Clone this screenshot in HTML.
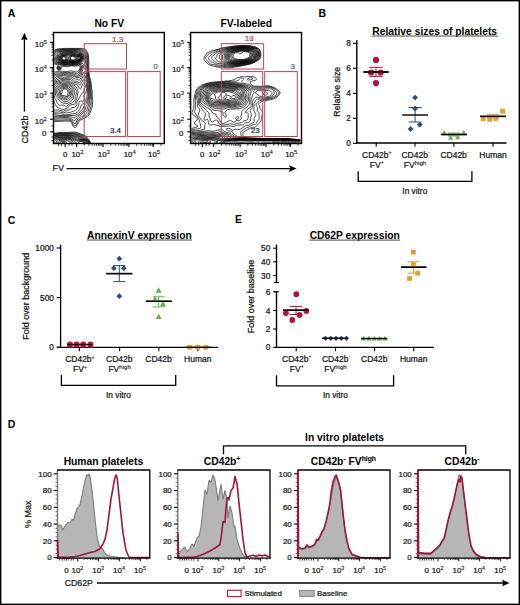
<!DOCTYPE html>
<html><head><meta charset="utf-8"><style>
html,body{margin:0;padding:0;background:#fff;}
svg{display:block;font-family:"Liberation Sans", sans-serif;}
text{stroke-width:0.22px;}
tspan{stroke-width:0.1px;}
text[font-weight=bold]{stroke-width:0;}
</style></head><body>
<svg width="520" height="605" viewBox="0 0 520 605">
<rect width="520" height="605" fill="#fff"/>
<rect x="0.70" y="0.70" width="518.60" height="603.60" stroke="#000" stroke-width="1.4" fill="none"/>
<text x="7.80" y="16.70" font-size="10.5" text-anchor="start" font-weight="bold" fill="#000"  stroke="#000">A</text>
<text x="318.60" y="16.90" font-size="10.5" text-anchor="start" font-weight="bold" fill="#000"  stroke="#000">B</text>
<text x="7.80" y="224.30" font-size="10.5" text-anchor="start" font-weight="bold" fill="#000"  stroke="#000">C</text>
<text x="235.00" y="223.30" font-size="10.5" text-anchor="start" font-weight="bold" fill="#000"  stroke="#000">E</text>
<text x="7.80" y="428.00" font-size="10.5" text-anchor="start" font-weight="bold" fill="#000"  stroke="#000">D</text>
<text x="109.30" y="26.60" font-size="10.3" text-anchor="middle" font-weight="bold" fill="#000"  stroke="#000">No FV</text>
<text x="246.30" y="27.00" font-size="10.3" text-anchor="middle" font-weight="bold" fill="#000"  stroke="#000">FV-labeled</text>
<clipPath id="clip0"><rect x="54.2" y="33.2" width="109.10000000000001" height="109.89999999999999"/></clipPath>
<g clip-path="url(#clip0)" fill="none" stroke="#000" stroke-width="0.7" stroke-linejoin="round">
<path d="M40.0 92.3l1.1 -2.5 1.6 -7.0 3.1 -5.0 4.2 -3.8 2.5 -0.7 2.7 -1.5 4.8 -0.6 6.8 0.3 4.7 -0.7 4.3 1.2 1.2 0.1 1.5 -1.1 1.2 -2.2 0.3 -1.3 -0.2 -1.0 -0.5 -0.5 -0.8 -0.2 -3.3 0.4 -3.7 -0.3 -4 0.7 -6.3 -0.5 -0.3 0.4 0.4 1.7 -0.5 1.4 -1.3 0.8 -1.5 -0.5 -0.8 -0.9 -0.3 -1.2 0.3 -0.9 1.1 -1.4 -2.3 -1.2 -3 -0.9 -1 -0.9 -0.8 -1.5 0.1 -5.8 0.9 -2.4 1.3 -1.8 2 -1.4 1.7 -0.6 8 -0.6 17.3 0.0 1.7 0.5 1.9 1.3 1.5 2.3 0.7 2.0 0.5 5.7 0 9.9 0.8 6.9 1.3 4.0 0.7 7.0 0.7 3.8 -0.1 2.4 0.5 7.6 -0.6 5.4 -0.6 2.0 -2.5 6.0 -1.8 1.4 -8 4.2 -2.7 5.4 -1 1.2 -0.7 0.2 -1.4 -0.8 -2 -4.3 -0.6 -0.8 -0.9 -0.5 -2.1 -0.2 -13.6 0.6 -10 -3.3 -4.2 -2.5M40.0 139.3l1.6 -2.1 2.6 -2.2 5.8 -2.1 1.5 -0.1 4 0.3 4.7 -0.7 3.3 0.2 12 -0.6 9.5 3.5 1.4 1.3 3.7 4.4 0.4 1.6 -0.6 1.7 -2.6 3.3 -2.3 2.0M42.2 149.8l-0.8 -1.6 -1.4 -4.6M40.0 96.5l0.9 -2.0 0.7 -2.5 1 -2.0 0.3 -2.5 1 -3.7 1.5 -2.3 1.2 -3.0 3.9 -3.2 2.5 -0.8 2.8 -1.6 3.4 0.0 3.6 -0.5 4.7 0.1 4 -0.2 2.7 0.6 2.3 0.8 0.7 0.0 1.6 -1.3 1.7 -3.7 0.2 -2.5 -0.4 -0.7 -0.8 -0.4 -1.4 -0.1 -3.1 0.4 -3.8 -0.1 -3.7 0.4 -3.7 0.0 -4.6 -0.9 -5.5 -2.3 -1.1 -1.5 -0.6 -5.0 0.7 -2.5 1.3 -1.9 2 -1.5 2.2 -0.7 5.8 -0.4 6.8 -0.2 7.4 0.0 4 0.5 1.8 0.6 1.8 1.2 1.3 2.1 0.6 2.0 0.5 4.8 0 10.0 0.8 7.0 1.1 3.5 0.5 2.7 0.2 5.0 0.6 3.8 0 6.8 -0.5 8.2 -1.8 5.2 -1.2 2.3 -1.1 1.1 -3.3 1.3 -2.3 1.6 -2.7 1.5 -0.7 1.0 -1.1 3.2 -0.9 1.3 -1 0.5 -0.8 -0.3 -0.5 -0.7 -1.7 -3.6 -1.8 -1.1 -3 -0.4 -6.5 0.4 -6.5 0.1 -9.5 -3.3 -3.9 -2.3 -0.6 -0.8M59.8 69.6l-1.3 0.0 -1 -0.8 -0.1 -1.3 0.8 -0.9 1.3 -0.2 1.1 0.8 0.2 1.3 -1 1.1M43.4 149.8l-1.2 -2.0 -1.6 -6.8 0.4 -1.2 1.4 -2.0 2.8 -2.4 5.8 -2.0 4.5 0.2 5 -0.7 3.3 0.2 10.2 -0.3 2.2 0.3 7.8 2.7 4 3.6 1.4 1.6 0.5 1.8 -0.5 1.4 -5.5 5.6M40.0 99.4l2.3 -4.4 1.7 -4.4 0.3 -3.6 0.7 -2.5 1.6 -2.7 0.8 -2.3 0.6 -0.7 7 -4.2 1.5 -0.5 3 0.0 4.3 -0.8 5 0.4 3 -0.1 2.2 0.5 2.5 1.1 1.3 0.0 0.7 -0.4 0.7 -1.0 2.1 -5.3 0.3 -1.5 -0.1 -1.2 -0.5 -0.9 -1 -0.5 -1.2 -0.1 -4 0.6 -11 0.2 -4.6 -1.0 -4.2 -2.0 -1.3 -1.6 -0.9 -4.3 0.4 -2.1 1.2 -1.9 2 -1.4 2.6 -0.8 5 -0.6 8.5 -0.1 6.7 0.3 4 1.1 2 1.3 1.5 2.2 0.6 3.0 0.3 12.6 0.9 7.4 1 3.3 0.5 3.0 0.1 4.5 0.4 4.2 -0.1 5.6 -0.5 3.0 0.1 3.2 -0.5 2.5 -0.9 2.3 -0.5 2.4 -0.6 1.1 -2 1.7 -7 4.3 -1.6 1.9 -0.9 2.7 -1 0.8 -0.8 -0.4 -2.4 -3.2 -3 -1.2 -2 -0.2 -12.6 0.5 -3.4 -0.8 -3.3 -1.2 -2.9 -1.4 -2 -2.0 -1.1 -2.8 -1.5 -2.3M59.2 69.3l-1 -0.3 -0.5 -0.8 0.3 -1.0 0.8 -0.4 1 0.2 0.6 0.8 -0.2 1.0 -1 0.5M44.7 149.8l-1.5 -2.0 -1.3 -6.0 0.5 -2.0 1.6 -2.6 2 -1.3 4.8 -1.9 5.2 0.1 5 -0.7 13.8 0.2 3.7 0.9 5.7 2.4 4.3 3.6 0.7 1.3 0.2 1.2 -1 1.8 -3.9 2.8 -1.8 2.2M74.8 120.6l-1 -0.2 -2.6 -1.9 -2.7 -0.8 -2.3 -0.2 -12.4 0.4 -2.6 -0.4 -3.2 -1.1 -2 -1.0 -1.2 -1.2 -3 -5.4 -0.8 -2.0 -0.1 -1.3 0.4 -2.5 0 -3.2 3.5 -6.8 0.5 -2.5 0.1 -3.3 0.7 -2.2 3.1 -5.2 3.9 -2.3 2.4 -1.8 1.3 -0.5 3 0.0 3.7 -0.8 5 0.5 3.3 -0.2 1.7 0.4 2.5 1.2 1.5 0.2 1.9 -0.7 1.1 -2.0 2 -7.3 -0.2 -1.5 -1.1 -1.0 -1.7 -0.4 -5 0.8 -10.7 0.2 -4.3 -0.9 -4.1 -2.5 -0.8 -1.2 -0.6 -2.0 -0.3 -1.8 0.2 -1.2 0.7 -1.5 1.2 -1.3 1.2 -0.8 2 -0.7 5.2 -0.8 8.8 -0.1 5.5 0.3 3.5 1.3 2.2 1.2 1.3 1.4 0.9 2.2 0.4 3.0 -0.3 3.8 0.4 7.0 1 7.2 1 3.6 0.6 3.4 0.2 12.0 -0.8 4.6 0 3.0 -2.4 6.9 -2.7 1.8 -3.1 2.7 -2.5 1.4 -3.4 4.0M59.5 68.8l-0.7 0.0 -0.5 -0.3 -0.2 -0.5 0.2 -0.5 0.7 -0.3 0.7 0.3 0.2 0.7 -0.4 0.6M46.2 149.8l-1.4 -1.3 -0.7 -1.0 -0.4 -3.3 -0.6 -2.2 0.4 -2.2 1.2 -2.0 1.8 -1.4 4.5 -1.8 5.5 0.0 4.5 -0.7 12.8 0.3 3.4 0.6 6 2.6 4 2.5 1.1 1.1 0.5 1.0 0.1 1.0 -0.3 0.8 -1.6 1.6 -3.3 1.8 -2.5 2.6M74.8 117.8l-0.8 0.2 -2 -0.9 -2.5 -0.4 -4.3 -0.2 -6.7 0.2 -6.5 -0.4 -3.5 -0.9 -1.5 -0.7 -1 -0.9 -1.6 -2.8 -1.6 -3.8 0.2 -7.0 0.9 -2.4 2.4 -4.3 0.3 -2.5 0 -4.0 1.3 -2.8 2.3 -2.7 6 -4.6 1.6 -0.6 5.4 -0.7 5 0.4 3.3 -0.3 1.5 0.4 2.8 1.3 2.4 0.2 1 -0.2 0.8 -0.6 1.3 -2.0 2.5 -9.3 -0.3 -1.0 -1.1 -1.0 -2.2 -0.5 -6 1.0 -10.4 0.2 -4.3 -1.1 -2.3 -1.3 -1.2 -1.0 -0.8 -1.6 -0.4 -2.2 0.2 -1.4 1.1 -2.1 0.8 -1.0 1.3 -0.7 4 -1.1 10.6 -0.4 5.7 0.6 2.5 1.0 2.7 1.6 1.2 1.5 0.7 1.8 0.1 2.4 -0.6 5.3 0.7 2.7 0.1 3.3 0.9 3.5 0.6 3.8 0.9 3.0 0.5 3.0 0 13.7 -0.8 3.0 -0.4 3.0 -1.6 3.0 -0.8 3.1 -5.4 4.6 -2.3 1.4 -2.7 2.2M47.7 149.8l-2 -1.8 -0.7 -1.4 -0.1 -2.6 -0.5 -3.0 0.3 -1.5 0.8 -1.3 1.7 -1.2 4.3 -1.8 5 -0.2 4.5 -0.5 12.2 0.4 4 0.5 9.9 4.8 0.9 1.0 0.4 1.0 -0.1 1.0 -0.4 0.8 -1.7 1.4 -3.4 1.6 -3 2.8M65.8 63.8l-2.6 -0.1 -3 -0.8 -2.2 -1.2 -1.5 -1.5 -0.6 -1.4 0 -1.6 1.5 -3.4 0.9 -1.0 1.7 -0.9 3.2 -0.8 10.6 -0.2 4.4 0.8 2 0.7 2.8 1.6 1.4 1.8 0.3 1.4 -0.1 1.8 -0.9 2.0 -0.9 0.9 -8.3 1.7 -6 -0.1 -2.7 0.3M74.8 115.5l-16 0.0 -10.7 -1.7 -1.3 -1.3 -1.2 -3.5 -1.1 -2.0 0 -5.7 1 -3.3 2.1 -3.5 0.6 -4.5 0 -2.5 0.5 -1.5 1 -1.5 2.3 -2.0 2.5 -2.7 3.1 -2.0 1.4 -0.6 2.8 -0.2 2.7 0.3 6 -0.5 1.5 0.3 2.8 1.8 2.4 0.3 1.6 0.9 0.4 0.0 0.8 -0.7 2 -3.6 1.2 -3.1 0.6 -0.5 0.4 0.0 1 0.7 0.8 1.5 0.7 3.6 1 3.2 0.6 7.0 -0.3 9.0 -1.7 5.8 -2.2 2.8 -1 2.7 -4.6 5.0 -3.7 2.0M49.2 149.8l-2.1 -1.8 -1 -1.8 -0.3 -5.2 0.3 -1.2 0.6 -1.0 1.5 -1.2 3.8 -1.8 9 -0.8 7.8 0.1 8.2 1.0 1.5 0.5 2.5 1.6 3.8 1.2 2.3 1.4 0.6 0.7 0.3 1.0 -0.2 0.7 -0.6 0.9 -1.4 1.1 -3.8 1.5 -3.7 3.1M74.2 63.3l-5.7 -0.3 -4 0.4 -3.5 -0.7 -2.2 -1.1 -1.5 -1.4 -0.6 -1.4 0.2 -1.8 1.4 -2.8 0.9 -0.9 2.3 -1.1 2.3 -0.5 10 -0.3 6.2 1.7 1.8 0.8 1.2 0.9 0.9 1.4 0.2 1.6 -0.5 1.4 -1.1 1.6 -2 1.1 -6.3 1.4M68.8 114.5l-3.3 -0.3 -2.3 0.1 -2.4 -0.5 -2.6 0.2 -3 -0.4 -5.8 -2.1 -0.9 -0.7 -0.4 -1.0 -0.2 -2.3 -1.3 -1.7 -0.1 -1.3 0.3 -1.7 0.6 -1.6 -0.2 -2.7 2 -3.7 0.1 -2.8 0.9 -5.5 0.6 -1.0 1.7 -1.5 2.3 -2.9 4.2 -2.4 1.2 -0.4 4.3 0.4 3.3 -0.6 2.7 0.1 1.3 0.6 2.7 2.1 2.3 0.5 2 1.0 0.7 -0.1 1.4 -1.3 1.9 -4.0 1.2 -1.4 0.8 -0.1 0.4 0.7 0.5 2.0 1.1 2.6 0.8 7.0 -0.7 9.0 -1.4 4.3 -1.3 1.9 -2.6 1.8 -1.1 2.2 -0.9 2.8 -2.6 2.7 -2 0.9 -6.2 1.1M50.6 149.8l-2.2 -1.8 -1.1 -2.0 -0.2 -4.5 0.8 -2.3 1.4 -1.2 3.2 -1.5 8.3 -1.0 8 0.1 8 1.1 3.7 2.1 4.7 1.2 1.8 1.2 0.4 1.6 -0.9 1.4 -1.5 0.9 -3.6 1.1 -2.9 2.4 -1.9 1.2M73.5 63.0l-5 -0.4 -4.3 0.4 -2.7 -0.6 -2 -0.9 -1.4 -1.3 -0.7 -1.4 0.1 -1.6 1.3 -2.1 1.2 -1.3 2 -1.1 2 -0.4 9.5 -0.3 7 1.9 1.5 0.7 0.9 0.9 0.6 1.3 0 1.2 -0.7 1.5 -1 1.2 -2.6 1.1 -5.7 1.2M63.5 112.8l-4.3 -0.9 -3.4 0.3 -1.6 -0.2 -1.4 -1.1 -2.6 -3.1 -1 -3.0 0.1 -1.0 0.8 -2.3 -0.9 -3.3 1.5 -3.4 0.5 -6.8 0.5 -1.5 3.5 -4.5 5.8 -2.4 4 0.2 3.2 -0.4 2 0.2 1.3 0.7 2.1 1.9 3.2 0.8 3 1.8 0.7 -0.5 3 -4.5 0.5 -0.1 1 0.4 0.8 1.4 0.9 4.7 0.1 2.0 -0.7 3.8 -2.4 3.5 0.1 0.7 0.7 2.0 -0.7 2.3 -1 0.9 -2.3 -0.5 -1.3 0.6 -0.4 1.0 0.1 2.5 -1.5 3.2 -0.7 1.0 -1.9 1.5 -4.3 1.6 -1.7 0.2 -2.6 -0.5 -2.7 0.8M52.5 149.8l-2 -1.0 -1.7 -2.0 -0.5 -1.6 -0.1 -3.4 0.3 -1.6 0.9 -1.2 1.6 -1.1 2.2 -0.8 6.8 -1.0 9.2 0.1 7.6 1.5 3 1.4 5 1.2 1.2 0.6 0.7 0.9 0.2 0.7 -0.2 0.7 -1.2 1.2 -4.7 1.5 -4.6 3.2 -2.8 0.7M74.8 62.5l-2.6 0.2 -3.7 -0.6 -3.7 0.6 -2.3 -0.3 -2.3 -1.0 -1.4 -1.2 -0.7 -1.2 0 -1.5 0.9 -1.6 1.5 -1.6 1.5 -0.9 1.8 -0.4 9.4 -0.5 4 1.4 3.3 0.5 1.8 1.1 0.7 1.0 0.1 1.3 -0.5 1.2 -1 1.2 -2.1 1.2 -4.7 1.1M63.8 111.0l-1.8 0.1 -3.5 -1.2 -3.7 0.3 -1 -0.8 -2 -3.4 -0.1 -1.5 0.6 -2.7 -1.2 -2.8 -0.1 -1.0 1.1 -3.2 0.2 -6.0 0.6 -1.8 2.3 -3.6 1.3 -0.9 5.3 -1.8 3.7 0.3 3.7 -0.2 1.3 0.5 2.7 2.2 3.8 1.4 2.8 3.7 0.7 0.5 0.7 -0.8 0.6 -2.5 0.7 -1.7 1 -0.9 0.7 0.2 1.1 1.8 0.2 1.3 -0.2 1.0 -1.1 1.7 -0.7 2.8 -2.4 2.5 -1.6 3.3 -2.2 3.2 -0.4 1.2 -0.1 2.6 -0.8 1.5 -1.5 1.2 -2.3 0.0 -0.7 0.2 -1 1.8 -0.7 0.6 -3 -0.2 -3 1.1M68.4 149.8l-5.2 -0.7 -3.7 0.5 -5 -0.2 -2.4 -0.6 -1.5 -1.3 -0.8 -1.7 -0.5 -4.0 0.3 -1.6 0.8 -1.0 1.1 -0.7 5 -1.3 3.3 -0.5 3.7 0.2 4.5 -0.2 3.8 0.7 7 2.2 5 0.7 1.4 0.7 0.9 0.8 0.2 1.2 -1.3 1.3 -5.5 1.5 -1.7 0.9 -2.6 1.9 -4.1 1.2M74.2 62.3l-2.2 0.0 -3.8 -0.6 -3.4 0.6 -2.3 -0.3 -2 -0.9 -1.2 -1.1 -0.6 -1.2 0.1 -1.3 1.4 -2.2 2.3 -1.5 9.3 -0.8 2.2 0.3 3 1.2 3.2 0.2 1.2 0.5 0.8 0.8 0.5 1.0 -0.1 1.0 -0.6 1.2 -1 1.1 -1.8 0.9 -5 1.1M63.8 109.3l-2.3 -0.1 -4 -1.9 -1 -0.8 -1.2 -1.7 -1.2 -3.8 -1.4 -3.0 0.6 -3.5 0 -4.7 0.8 -2.6 2 -3.0 0.9 -0.7 5.2 -1.6 3.3 0.3 3.5 -0.3 6.5 4.3 2.1 3.3 0.5 2.0 -0.9 5.7 -2.4 6.8 -0.8 0.4 -3.8 0.6 -0.8 0.8 -1.4 2.1 -4.2 1.4M70.2 149.3l-6.2 -0.8 -4.8 0.5 -4.4 -0.3 -1.3 -0.3 -1.4 -0.9 -0.8 -1.5 -0.7 -4.0 0.2 -1.5 0.6 -0.7 0.8 -0.5 5.8 -1.8 10 -0.3 3.8 0.9 5.4 2.0 6.3 0.6 1.3 0.5 0.8 0.8 0 1.0 -1.1 1.0 -6.7 1.5 -3.3 2.4 -4.3 1.4M73.8 62.0l-2 0.0 -3.6 -0.8 -3.4 0.8 -2.3 -0.3 -1.5 -0.7 -1.1 -1.0 -0.6 -1.2 0 -1.3 1.4 -2.0 2.1 -1.2 9.2 -0.7 2 0.3 2.8 1.1 3.4 0.1 1 0.4 0.8 0.7 0.3 1.0 -0.1 1.0 -1.4 1.9 -1.8 0.8 -5.2 1.1M66.5 106.3l-0.7 0.0 -2 -1.3 -3.6 0.4 -1.4 -0.5 -1.8 -2.4 -0.8 -2.5 -1.5 -1.8 -0.4 -1.0 -0.2 -6.2 0.8 -2.5 2.7 -3.7 1.4 -0.8 2.5 -0.7 4 0.0 2.5 -0.4 1.2 0.3 4.6 3.6 2.9 4.4 -0.1 1.6 -1.3 3.4 -0.4 3.3 -0.7 1.3 -1.6 1.7 -3.4 1.5 -2.7 2.3M70.5 148.5l-6.5 -0.5 -4.8 0.3 -4.8 -0.5 -1 -0.8 -0.5 -1.0 -0.5 -4.8 0.6 -0.7 2 -1.3 2.8 -1.0 10.2 -0.4 4 1.1 4.8 2.2 5.4 -0.1 1.8 0.5 0.8 0.7 -0.1 0.8 -1.1 0.8 -6.6 0.9 -3 2.4 -3.5 1.4M73.0 61.8l-1.5 -0.2 -3.3 -0.9 -3.4 0.9 -2 -0.2 -1.6 -0.7 -0.9 -0.9 -0.5 -1.0 0.1 -1.3 1.1 -1.6 1.8 -1.1 6.2 -0.2 3 -0.5 1.8 0.2 2.7 1.2 3.5 -0.1 1 0.4 0.7 0.7 0.2 0.7 -0.1 1.0 -0.6 1.0 -1 0.9 -1.4 0.6 -5.8 1.1M67.0 103.5l-4.5 -0.6 -1.3 -0.4 -5.2 -6.2 -0.9 -4.3 0.2 -1.8 0.8 -1.4 2.1 -2.6 1.8 -1.2 2.2 -0.5 6.3 -0.4 1.3 0.7 2.9 2.7 1.4 2.3 0.7 3.0 -1 2.7 -0.7 3.5 -3.5 3.2 -1.6 1.0 -1 0.3M70.2 147.8l-5.7 -0.4 -4.7 0.3 -4.3 -0.7 -0.7 -0.5 -0.4 -1.0 0.4 -4.5 1.5 -1.5 2.9 -0.8 8.8 -0.3 1.5 0.3 2.3 0.9 3.2 1.9 0.8 0.7 0.3 0.8 -0.8 1.5 -1.4 1.5 -1.9 1.1 -1.8 0.7M81.5 143.5l-2.3 0.1 -0.7 -0.4 -0.4 -0.4 0.6 -0.8 1.8 -0.5 1.7 0.1 1.3 0.6 0 0.6 -0.3 0.2 -1.7 0.5M74.2 61.3l-2.4 0.0 -3.6 -1.2 -3.2 1.1 -2 0.0 -1.2 -0.6 -1 -0.8 -0.5 -1.0 0 -1.0 0.9 -1.6 1.8 -1.0 5.5 0.0 3.5 -0.6 1.8 0.2 2.7 1.2 3.5 -0.3 1.3 0.8 0.3 0.7 -0.1 1.0 -1.3 1.6 -1.2 0.5 -2.8 0.3 -2 0.7M67.2 101.5l-2.2 0.2 -1.5 -0.4 -3.7 -2.5 -1.9 -2.6 -1.6 -4.0 0 -1.4 0.7 -1.3 1.6 -2.0 1.6 -1.4 4 -0.8 4 -0.1 1.6 0.9 3 3.4 0.3 2.7 -1.3 5.6 -3.6 3.2 -1 0.5M69.8 147.0l-5 -0.2 -4.6 0.2 -3.4 -0.8 -0.6 -0.4 -0.3 -0.8 0.6 -4.0 1 -1.0 2 -0.5 8 -0.4 2.5 0.5 3.1 1.9 0.9 1.0 0.2 0.7 -0.4 1.0 -1.1 1.3 -1.5 1.0 -1.4 0.5M73.8 61.0l-2.6 -0.1 -3 -1.5 -3 1.4 -2 0.1 -2 -1.2 -0.5 -0.9 0 -1.0 0.8 -1.3 1.5 -0.9 1.8 0.0 3.4 0.5 4 -1.1 1.6 0.2 2.4 1.3 3.3 -0.5 1 0.2 0.5 0.6 0.3 0.7 -0.1 0.7 -1.2 1.4 -1.5 0.5 -2.3 0.0 -2.4 0.9M65.8 99.8l-2.3 -0.4 -2.3 -1.0 -1.1 -0.9 -1 -1.5 -1.4 -4.8 1.2 -2.4 1.6 -1.7 4 -0.9 2.7 -0.1 1.6 0.7 2.2 2.4 0.7 1.3 0.1 1.3 -0.9 4.0 -0.5 1.2 -2.6 2.2 -2 0.6M69.0 146.3l-4 -0.2 -3.8 0.3 -2.2 -0.4 -1 -0.6 -0.4 -0.6 0.4 -3.3 0.8 -0.8 1.7 -0.5 6.7 -0.4 2.2 0.4 2.2 1.6 0.6 1.4 -0.3 1.0 -0.7 1.0 -1 0.7 -1.2 0.4M73.2 60.8l-1.2 -0.1 -1.2 -0.4 -2.6 -2.0 -2.7 2.0 -1 0.3 -1.3 0.0 -1.6 -1.1 -0.4 -0.7 -0.1 -1.0 0.9 -1.3 1.2 -0.5 2.5 0.2 2.5 1.3 2.6 -1.7 1.4 -0.4 1.6 0.3 2.4 1.4 3 -0.8 1 0.2 0.6 0.5 0 1.2 -1 1.2 -1.6 0.4 -2 -0.3 -3 1.3M66.0 98.3l-1.2 0.1 -1.3 -0.2 -1.5 -0.7 -1 -0.7 -1 -1.8 -0.7 -3.8 0.5 -1.7 1 -1.2 4.7 -1.3 1.5 0.1 1.2 0.7 1.9 2.4 0.4 1.6 -0.4 3.0 -0.5 1.2 -2.1 1.6 -1.5 0.7M62.0 145.8l-2 -0.4 -1 -0.9 0.1 -2.3 0.9 -1.0 1.8 -0.3 6 0.0 1.6 0.6 0.8 1.0 0.1 1.5 -1.1 1.1 -7.2 0.7M73.8 60.3l-1.8 0.1 -1.7 -0.9 -0.8 -1.5 0.5 -1.0 1.2 -0.9 1.3 -0.3 1.3 0.3 1.4 0.9 1 1.2 0 0.3 -1.3 1.3 -1.1 0.5M64.5 60.3l-1.5 -0.2 -1.3 -1.1 -0.1 -1.2 0.9 -1.1 1 -0.4 1.3 0.2 1.2 0.5 0.7 0.8 -0.1 0.7 -0.4 0.7 -1.7 1.1M79.2 59.3l-1.4 0.0 -1.4 -1.1 1.6 -1.3 1.8 -0.2 0.7 0.5 0 0.8 -0.4 0.8 -0.9 0.5M66.2 97.0l-1.7 0.1 -1.3 -0.3 -2 -1.1 -0.6 -1.2 0.2 -3.5 0.4 -1.2 1.5 -1.0 2.3 -0.8 1.5 0.1 1 0.5 1.2 1.6 0.6 1.8 0 1.8 -0.4 1.2 -1.4 1.5 -1.3 0.5M62.5 145.0l-1.3 -0.1 -0.9 -0.7 -0.1 -1.4 0.6 -0.8 1.2 -0.3 2.8 0.0 1.2 0.3 0.7 0.5 0.1 1.3 -0.4 0.4 -3.9 0.8M73.5 60.0l-1.7 -0.1 -1.3 -0.9 -0.2 -1.2 0.7 -1.0 1 -0.5 1 0.0 1 0.3 0.8 0.6 0.4 0.8 -0.1 0.8 -0.6 0.7 -1 0.5M64.8 59.8l-1.3 0.1 -1.2 -0.7 -0.4 -1.0 0.5 -1.0 0.6 -0.3 1 -0.2 1.7 0.8 0.3 0.5 -0.1 0.8 -1.1 1.0M79.0 59.0l-1.2 -0.2 -0.3 -0.8 0.7 -0.8 1.3 -0.2 0.5 0.3 0.2 0.7 -0.4 0.6 -0.8 0.4M66.8 96.3l-0.8 0.0 -1.8 -0.8 -2.2 -0.1 -0.8 -0.6 0 -0.8 0.8 -1.2 0.4 -2.6 1.1 -1.0 1.3 -0.3 1.4 0.2 0.9 0.7 0.6 1.0 0.4 1.2 -0.1 1.2 -0.5 2.3 -0.7 0.8M63.5 144.0l-1.3 0.0 -0.4 -0.2 0 -0.8 1.2 -0.5 2 0.5 -0.2 0.7 -1.3 0.3"/>
</g>
<clipPath id="clip4"><rect x="191.3" y="33.2" width="109.09999999999997" height="109.89999999999999"/></clipPath>
<g clip-path="url(#clip4)" fill="none" stroke="#000" stroke-width="0.7" stroke-linejoin="round">
<path d="M229.2 67.8l-2.2 0.0 -5.2 -0.6 -3.8 0.1 -8.1 -2.1 -1.7 -1.0 -3.9 -4.0 -0.4 -1.4 0.4 -1.8 2.7 -4.0 5.5 -2.6 6 -1.3 4.5 -1.5 11.2 -1.6 5.6 -0.5 10 0.2 3.7 0.6 1.7 0.6 3.6 1.7 1.3 1.4 0.5 1.5 0.3 3.3 -0.2 2.7 -1.6 2.3 -3.9 2.3 -5.2 2.1 -10.2 2.1 -10.6 1.5M180.0 131.2l2.5 -0.9 3.7 -0.4 3.8 -1.2 3.2 -0.6 3.8 -1.2 0.6 -0.4 -0.1 -1.0 -2.3 -0.9 -0.8 -1.6 0.4 -1.0 2.1 -1.8 0.3 -0.7 -0.2 -1.0 -2 -2.5 -3 -2.2 -0.3 -0.8 1.4 -3.2 0.9 -3.8 -0.2 -5.8 1 -5.2 1.2 -5.0 0.8 -1.2 1 -0.9 4.7 -3.3 6.7 -1.9 6.3 -0.8 7.3 -0.4 3 -0.6 2.7 0.0 3 -0.5 2.7 -0.8 2.6 -1.6 4.2 -1.4 3.8 0.4 3.7 -0.6 3.5 0.0 1.6 0.4 1.6 0.7 0.8 0.7 0.4 1.0 -0.2 0.6 -0.7 0.4 -4.5 1.2 -1 0.6 -0.2 0.5 0.2 0.7 2.2 2.0 1.6 0.7 1.7 0.3 5 0.1 7 -0.6 2.7 0.3 4.5 1.8 1.3 0.7 3.5 3.0 0.4 0.7 0.2 1.0 -0.6 1.3 -1.3 1.5 -4 2.8 -3.4 0.9 -7.3 1.2 -3.1 1.3 -1.3 1.0 -0.4 1.0 1 2.0 0.3 2.5 1.8 1.9 0.8 1.9 -1.6 8.5 -3.2 3.8 -2.8 2.3 -1 0.5 -2.5 0.2 -1.4 0.4 -6.6 3.8 -0.6 1.2 0.3 3.6 1.3 0.7 4.3 0.5 16 0.5 22.4 0.0 17.6 1.7M304.8 143.8l-20.8 1.8 -18.2 -0.1 -22 0.7 -3.2 0.6 -5.5 3.0M229.5 67.0l-8.3 -0.9 -3.4 0.2 -4 -1.7 -3.3 -0.4 -1.3 -0.8 -1.4 -2.4 -1.9 -1.8 -0.3 -1.0 0.2 -1.0 2.4 -2.8 5 -3.0 10.3 -3.1 11 -1.9 5.7 -0.6 9.8 0.3 5 1.1 3.2 1.7 1.2 1.1 0.5 1.5 0.4 3.3 -0.3 2.7 -1.4 2.0 -3.6 2.3 -2.2 1.1 -3 0.9 -10.6 2.1 -9.7 1.1M250.8 79.8l-2.8 0.2 -0.5 -0.2 -0.2 -0.6 0.3 -0.4 1.4 -0.8 2 -0.3 1.1 0.3 0.5 0.8 -0.1 0.4 -1.7 0.6M180.0 132.4l2.5 -0.9 4.3 -0.6 4.4 -1.3 8 -0.9 0.8 -0.2 0.6 -0.7 0.2 -1.0 -0.6 -3.3 -1.5 -4.5 -4.3 -7.2 0.8 -2.6 0.4 -4.7 -0.3 -4.0 0.2 -4.5 1.1 -3.0 0.5 -2.8 0.9 -1.2 4.5 -3.6 5.7 -2.0 7.3 -1.0 21.3 -1.4 1.2 -0.5 2.5 -2.3 1.3 -0.3 0.9 0.3 1 1.0 -0.2 0.6 -2.1 2.0 0.2 0.4 0.9 0.7 4 1.1 2.5 0.4 3.2 2.0 2 0.6 6.3 0.2 7.5 -0.8 2.2 0.3 4.6 1.9 3.7 3.4 0.5 1.0 -0.4 1.0 -1.6 1.8 -3.5 2.3 -7.3 1.5 -6.7 1.1 -1.5 0.9 -1.6 1.9 -0.4 1.3 0.3 1.0 1.4 1.7 -0.5 2.5 0 0.8 2 2.2 -0.2 2.8 0.2 2.7 -0.2 1.0 -1.5 1.5 -1 2.2 -1 1.0 -1.3 0.5 -2.4 0.5 -2.3 1.6 -3 1.0 -5 3.1 -0.8 1.6 0.4 2.5 -0.1 1.8 0.2 0.4 1.9 0.6 6.4 0.4 38 0.5 17.3 1.7M304.8 143.6l-11.8 1.2 -9.2 0.7 -18 -0.1 -24.6 0.7 -3.3 0.7 -3.2 2.0 -2.2 1.0M230.2 66.3l-9.4 -1.3 -2.8 0.1 -1 -0.2 -4 -2.5 -2.5 -0.6 -2.1 -3.6 -0.1 -0.7 0.5 -0.7 5 -4.0 3.7 -1.7 3.5 -0.9 3.2 -1.3 10.3 -2.1 6 -0.6 5.7 -0.1 4 0.3 4.8 1.3 2.8 1.5 1.1 1.3 0.8 4.5 -0.3 2.5 -1.4 1.7 -3.5 2.5 -2.7 1.2 -2.8 0.7 -10.2 1.9 -8.6 0.8M180.0 133.9l2.8 -1.4 5.7 -0.9 3.3 -0.9 4 0.1 4.7 -0.6 3.6 -1.0 0.7 -0.4 -0.3 -2.3 0.7 -2.3 -0.1 -1.0 -0.6 -0.7 -2.7 -2.0 -3.6 -5.0 0.1 -1.5 1.4 -3.0 0.2 -1.0 -0.4 -1.0 -1.5 -1.5 -0.4 -0.7 -0.3 -6.0 -0.8 -3.6 0.1 -1.4 1.1 -2.6 0.7 -3.0 3.1 -3.2 2.5 -1.6 5.2 -1.6 6.3 -0.8 10.5 -0.8 8.5 0.3 5.3 0.6 6.4 2.1 2.8 0.6 3.2 1.8 1.8 0.5 9.2 0.0 4.8 -0.7 2.5 0.2 2.3 0.8 1.2 0.8 2.5 3.6 0.2 0.7 -0.4 1.0 -1.1 1.3 -3.4 1.8 -6.8 1.4 -3 0.2 -4.2 -0.1 -1 0.3 -0.7 0.6 -1.7 2.5 -0.3 1.0 -0.3 7.5 1.8 2.5 0.2 1.0 -0.2 1.0 -1.4 2.7 -0.1 3.3 -0.6 1.3 -2.5 1.0 -2 1.3 -3 0.5 -6 3.8 -4.8 -0.2 -3 1.3 -1.5 -1.7 -1.9 -0.5 -2.5 0.5 0.1 0.4 0.7 0.8 1.9 1.0 2.8 0.3 1.2 1.7 4.2 3.5 2.3 1.0 2.2 0.5 22.8 0.7 23 0.1 17.3 1.9M304.8 143.3l-5.6 0.8 -15.2 1.3 -18.2 -0.2 -26.3 0.7 -3.4 0.6 -3.3 1.9 -3.8 1.4M231.5 65.5l-2.3 0.0 -8.7 -1.9 -3.3 -0.1 -5 -4.3 -0.6 -1.0 0 -1.0 0.5 -0.7 1.8 -1.3 1.7 -1.7 2.4 -1.5 3.2 -0.7 2.6 -1.4 1.4 -0.5 5 -1.4 4.8 -0.9 4.8 -0.5 5 -0.2 5.7 0.4 2.5 0.6 2 0.7 2.2 1.4 1.1 1.3 0.8 4.0 -0.3 2.4 -1.3 1.8 -3.3 2.4 -3.7 1.5 -5 0.9 -7.5 1.3 -6.5 0.4M234.2 126.5l-1.2 0.1 -2.5 -0.7 -9.5 0.6 -6.8 -1.9 -3 0.4 -1.6 0.0 -0.8 -0.4 -0.4 -0.6 -0.2 -3.5 -0.4 -1.0 -0.8 -0.1 -1.8 1.0 -1.1 -0.4 -0.2 -1.2 1.5 -3.6 0 -1.4 -0.6 -1.5 -1.7 -1.5 -1.8 -3.0 -2.2 -2.8 -0.5 -1.8 0 -3.2 -0.9 -3.0 0.1 -1.2 1.7 -5.0 2.5 -3.3 2.2 -1.4 4.3 -1.6 3.3 -0.3 3.7 -0.7 11.3 -0.6 12.7 1.0 8.5 3.0 6 2.6 3.5 -0.4 5.5 0.3 6.8 -0.7 1.8 0.3 1.5 1.0 0.9 1.8 0.2 2.0 -0.7 1.2 -2 1.6 -1.5 0.6 -5.5 1.0 -2 0.0 -6.3 -1.0 -1 0.6 -2 2.3 -0.9 2.1 0.3 3.0 -0.4 2.3 -0.4 1.1 -1.3 1.2 -0.4 0.7 0.1 1.0 1 2.0 0.2 1.3 -1.3 6.2 -0.9 1.2 -0.7 0.4 -3 0.1 -1.7 1.6 -1 0.6 -5.8 0.2 -2.8 1.4M180.0 135.8l2.5 -2.1 9 -2.0 4.5 0.3 8 -1.0 4.8 -0.2 5.4 0.4 3.6 -1.1 3.4 -0.5 1.3 0.4 2.5 1.9 4 1.0 2.2 1.0 2.4 1.6 1.5 2.0 1.1 0.3 13 0.8 38 0.4 17.6 2.1M304.8 142.9l-5.6 1.0 -15 1.3 -18.4 -0.1 -27.8 0.7 -3.3 0.4 -4.7 2.2 -4.4 1.4M190.6 149.8l-3.4 -0.6 -2 0.6M237.5 64.8l-7.7 0.1 -4.6 -1.2 -4.4 -1.6 -2.6 -0.3 -0.8 -0.6 -1.6 -2.0 -0.4 -0.7 0 -0.5 1.2 -1.2 0.7 -2.6 0.9 -0.8 3.3 -1.0 4 -2.3 5 -1.7 4.3 -0.8 5.2 -0.7 4.5 -0.1 5.7 0.4 4.3 1.2 1.8 1.1 1.3 1.3 0.8 2.4 0 3.0 -1 2.0 -2.4 2.2 -2.2 1.3 -3 1.0 -12.3 2.1M223.8 125.0l-2.6 -0.1 -1.3 -0.4 -0.7 -0.7 -1.2 -2.6 -1.5 -1.1 -1.3 0.1 -2.7 1.7 -1.3 -0.3 -0.5 -0.8 -0.5 -2.3 -1.1 -1.7 0 -3.0 -0.3 -1.0 -8.8 -8.6 -0.4 -1.2 0 -2.8 -0.5 -3.0 0.1 -1.2 1.1 -4.5 1.9 -3.0 2.2 -1.7 3.8 -1.6 3.6 -0.4 3.7 -0.7 11.7 -0.6 12.8 1.2 6.5 2.5 6.1 3.3 1.7 2.0 -1.5 2.0 -0.3 1.5 -1 2.2 -0.7 4.0 0.4 3.0 -0.2 1.5 -0.8 0.9 -2 1.0 -1.4 1.8 -1.8 1.4 0.2 0.5 1.3 -0.1 0.7 0.3 1 1.3 0 4.0 -0.7 1.7 -1 0.7 -2.5 0.6 -1.8 1.6 -0.7 0.3 -4.7 0.6 -3 1.2 -1 -0.1 -2.6 -0.8 -2.2 0.7 -4.2 0.7M265.8 97.1l-1.8 0.0 -5 -1.1 -3.7 -3.2 0 -0.6 1.7 -1.4 1.5 -0.5 3.7 0.7 4.3 -0.7 3.3 0.5 1.6 1.0 0.5 0.7 0 1.0 -1.1 1.9 -1.1 0.6 -3.9 1.1M180.0 137.4l2 -2.2 1 -0.6 8.5 -2.1 4.7 0.4 4.8 -0.3 3.5 -0.6 2.5 0.2 2.8 -0.1 7.2 0.6 3.5 -1.2 3.8 1.5 4.9 1.4 2.4 1.4 1.3 1.7 2.3 0.7 28.8 0.8 17.2 -0.1 6.8 0.2 14.5 1.9 1.6 0.5 0.5 0.5 -1.1 0.8 -2.5 0.6 -16.8 1.7 -18.4 -0.2 -25.3 0.5 -4.7 0.3 -3.6 0.5 -5.7 2.5 -9 1.1M196.9 149.8l-4.1 -0.4 -5.6 -1.0 -3.7 0.8 -1.3 -0.6 -2.2 -2.5M238.2 64.3l-8 0.0 -3.6 -1.1 -2.8 -1.2 -1.6 -1.0 -2.2 -2.2 -0.8 -2.3 0 -1.3 5.3 -3.8 2.3 -1.1 4.2 -1.5 4 -0.9 4.2 -0.5 6.3 -0.3 6 0.7 3 1.1 2.5 2.1 0.8 2.2 -0.1 2.8 -1.1 2.2 -1.8 1.9 -2.3 1.3 -3 1.0 -11.3 1.9M224.0 123.3l-1.8 0.1 -1 -0.4 -2 -3.7 -2.7 -2.3 -0.7 -2.8 -3 -1.1 -2.4 -3.6 -3.4 -1.8 -6 -4.5 -0.3 -1.0 -0.3 -4.7 0.2 -3.5 0.8 -2.5 1.6 -2.5 2.2 -1.9 3 -1.3 7.3 -1.2 11.7 -0.5 12.8 1.2 6 2.6 4.7 2.9 0.5 0.4 0.1 0.8 -0.9 2.0 -0.6 2.5 0.1 3.3 -0.8 5.0 -3.3 3.2 -2.8 1.8 -1.2 1.4 -0.1 2.8 -0.9 2.5 0.7 1.7 -0.3 0.8 -2 1.6 -2.7 0.1 -2.5 1.5 -0.8 0.0 -1.7 -1.3 -1.7 -0.2 -1.3 0.3 -2 1.2 -2.5 1.1M265.8 95.3l-1.6 -0.1 -1.2 -1.2 1.2 -1.5 1.3 -0.6 1.4 0.3 1 1.3 -0.4 0.7 -1.7 1.1M236.8 119.5l1.2 -0.7 0.8 -1.0 0 -0.6 -0.5 -0.4 -1.3 -0.1 -1.2 1.1 0 1.2 0.4 0.5 0.6 0.0M180.0 139.0l1.2 -0.9 2.1 -2.3 8.2 -2.5 5 0.4 7.7 -0.8 9 0.5 4 0.6 3.6 -0.9 7.2 2.2 1 0.7 1.1 1.8 4 0.7 29.9 0.7 17 -0.2 6.8 0.3 13.4 1.9 1.1 0.3 0.6 0.5 -0.9 0.8 -3.5 0.6 -14.3 1.5 -18.4 -0.1 -25.6 0.4 -5.9 0.3 -3.5 0.5 -4.3 1.7 -9.7 1.5 -13.3 -0.1 -3.5 0.6 -3.8 -0.8 -4 -0.2 -4.4 -1.0 -4.3 0.2 -1 -0.7 -1.5 -2.0 -1 -0.8M237.2 64.0l-7.2 -0.3 -2.8 -1.0 -3.2 -1.9 -1 -1.0 -0.6 -1.8 -0.1 -2.2 0.9 -1.8 2.6 -2.4 4.7 -2.2 4.5 -1.1 6 -0.7 4.5 -0.1 6.5 0.8 2.5 1.1 2.1 2.1 0.7 2.3 -0.2 2.2 -1.3 2.5 -1.8 1.6 -2.5 1.2 -2.7 0.9 -11.6 1.8M226.2 117.1l-1 -0.1 -2 -1.8 -0.3 -1.0 0.3 -1.7 -0.6 -0.7 -2.8 -0.7 -2 -0.9 -3 0.4 -0.8 -0.2 -2.8 -2.6 -3.7 -2.1 -5 -3.7 -0.5 -1.2 -0.3 -2.3 0.1 -4.5 2.1 -4.2 2.3 -2.4 2.3 -1.0 7.5 -1.2 11.2 -0.5 11.3 1.0 2.3 0.5 4.7 2.4 3.5 2.9 0.2 1.3 -1.1 3.4 0.5 2.8 -0.1 1.2 -1 2.3 -2.7 3.9 -1 0.7 -3.8 1.5 -6.5 0.5 -3.5 0.0 -3 0.9 -1.5 1.2 -0.7 1.0 1.4 2.8 0 2.1M180.0 140.8l2.3 -1.6 1.8 -2.2 6.9 -2.8 1.8 -0.2 3.7 0.6 7.7 -0.8 12.8 1.1 4.5 -0.5 3.3 1.2 1.7 1.1 1.4 1.3 1.9 0.5 6 0.4 28.2 0.5 16.8 -0.2 6.4 0.2 3 0.3 8 1.4 2.1 0.7 0.4 0.4 -2.2 0.9 -5 0.8 -9.7 0.9 -18 -0.2 -32.3 0.7 -3 0.3 -3.7 1.1 -3.3 0.3 -6.5 1.4 -13.5 0.1 -3.5 0.5 -3.8 -0.8 -4 -0.2 -4.2 -1.0 -3.8 -0.3 -1 -0.7 -1.4 -1.8 -1.8 -1.2M238.2 63.5l-2.4 0.1 -5.6 -0.4 -2.4 -1.0 -2.4 -1.7 -1 -1.0 -0.4 -1.3 0.3 -3.2 0.8 -1.8 2.1 -1.7 4 -1.8 4.3 -1.1 7.3 -0.8 3 0.0 6.2 0.9 2.1 1.1 1.9 2.0 0.7 1.7 -0.1 2.0 -1.2 2.7 -1.6 1.6 -2.3 1.1 -3 1.0 -10.3 1.6M224.0 109.0l-2.5 0.1 -3.3 -0.7 -3.7 -0.2 -5.7 -3.1 -4.8 -3.9 -1 -2.2 -0.2 -3.8 1.9 -4.4 1.8 -2.6 2 -1.1 6.5 -1.2 12.5 -0.5 12.5 1.2 1.2 0.5 4 2.7 1.8 3.2 -0.3 3.0 0.5 3.2 -1.1 2.8 -2.3 3.2 -1 0.6 -6.3 1.9 -3.7 0.3 -3.8 -0.4 -5 1.4M200.2 148.3l-4 -0.7 -4 -0.2 -3.2 -1.1 -3.8 -0.7 -1 -0.6 -2.1 -2.2 -0.4 -1.0 0.7 -0.8 2.4 -1.2 4.2 -3.6 2.2 -1.1 1.8 -0.2 3.5 0.5 3.5 -0.6 4 -0.1 13.5 1.0 3.7 -0.2 2 0.7 2.1 1.8 4.2 1.0 34.5 0.6 18.5 -0.2 8.5 0.6 6.7 1.5 0.6 0.3 0.3 0.4 -0.8 0.6 -4.3 0.8 -9 1.0 -18.7 -0.2 -32.3 0.6 -11.7 1.3 -4.8 1.4 -13.2 0.2 -3.6 0.4M238.8 63.0l-2.3 0.2 -5.3 -0.3 -2 -0.6 -1.7 -1.1 -1.7 -1.7 -0.6 -1.3 0.2 -3.0 0.8 -2.0 1 -1.0 1.8 -1.0 5 -1.9 2.2 -0.5 6.8 -0.7 2.5 0.1 6.3 0.9 2 1.0 1.7 1.9 0.6 1.5 -0.1 2.0 -1.1 2.5 -1.4 1.4 -2.5 1.3 -2.8 0.9 -3.4 0.7 -6 0.7M223.8 107.3l-9.3 -0.5 -5 -2.4 -3.1 -2.6 -1.9 -3.0 -0.5 -1.6 0 -1.2 1.8 -5.0 1.8 -2.5 1.4 -0.7 2.5 -0.3 4 -1.0 7.5 -0.5 4.8 0.1 5 0.3 7.2 0.9 1.5 0.7 2.4 2.0 0.7 1.2 1.2 7.0 -0.9 3.3 -1.4 2.1 -1 0.6 -6.5 2.3 -3.8 0.4 -3.2 -0.4 -5.2 0.8M200.8 147.5l-8.8 -1.0 -3 -1.4 -3.2 -1.0 -1.1 -0.9 -0.4 -1.0 5.6 -5.0 1.6 -1.0 1.5 -0.3 3.5 0.3 4.7 -0.8 19.6 1.2 1.1 0.4 1.9 1.5 5.2 0.8 26.8 0.1 8.2 0.4 18.2 -0.2 7.8 0.5 4.2 0.9 2.3 1.0 -0.3 0.5 -2.7 0.8 -9.3 1.1 -15 -0.2 -36.4 0.6 -11.6 0.7 -4.4 1.5 -12.8 0.2 -3.2 0.3M238.0 62.8l-6.8 -0.4 -2 -0.8 -1.4 -1.1 -1.3 -1.5 -0.4 -1.5 0.4 -2.7 0.9 -1.8 2.6 -1.7 4.5 -1.7 8.7 -1.1 2.6 0.1 6 1.0 1.6 0.9 1.5 1.7 0.6 1.6 -0.2 2.0 -1 2.2 -1.3 1.2 -2.8 1.3 -2.4 0.9 -3.3 0.7 -6.5 0.7M224.8 106.0l-1.8 0.2 -2.8 -0.4 -5.4 0.0 -4 -1.6 -3 -2.2 -1.7 -2.5 -0.9 -3.0 1.5 -4.7 1.5 -2.4 1.3 -0.8 2.5 -0.3 3.2 -1.1 8 -0.6 9.6 0.4 6.6 1.0 1.4 0.5 1.5 1.3 0.9 1.4 0.3 2.6 1 4.0 -0.9 3.0 -1.1 1.8 -1.4 0.9 -4.9 1.9 -4.4 0.5 -3 -0.2 -4 0.3M201.0 146.8l-1.5 0.0 -7 -1.0 -4.4 -3.0 -0.3 -0.6 0.1 -0.7 2 -2.7 2.1 -1.5 1.5 -0.3 3.3 0.0 4.2 -1.0 5.5 0.3 3.5 0.5 6 0.1 4.2 0.9 3.3 1.3 5.5 0.5 26.8 0.0 8.2 0.4 17.8 -0.3 7.7 0.6 3.9 0.9 1.3 0.8 -0.4 0.5 -1.5 0.5 -9 1.2 -14.6 -0.2 -19.4 0.4 -17.1 0.1 -11.7 0.5 -4.2 1.2 -8.3 0.1 -7.5 0.5M238.8 62.3l-2.3 0.1 -4.7 -0.5 -1.8 -0.5 -1.3 -0.9 -1.2 -1.5 -0.5 -1.5 0.3 -2.5 0.9 -1.8 2.3 -1.5 4.3 -1.8 8.2 -1.1 2.5 0.2 5.7 0.9 1.6 0.9 1.3 1.4 0.7 1.6 -0.1 2.0 -0.9 2.0 -1.3 1.1 -2.7 1.4 -2.6 0.8 -2.7 0.6 -5.7 0.6M231.5 105.0l-8.5 0.2 -2.8 -0.3 -4.7 0.0 -2.3 -0.5 -2 -0.8 -3.2 -2.5 -0.9 -1.3 -0.7 -1.8 -0.1 -2.2 1.8 -4.6 0.9 -1.1 1.1 -0.6 6.9 -1.8 5.8 -0.4 10.7 0.5 3.3 0.6 3.4 1.0 1 0.8 0.7 1.0 1.2 5.6 -0.1 1.7 -1.1 2.7 -1.4 1.5 -3.3 1.5 -5.7 0.8M201.5 146.0l-2.5 0.0 -4.2 -0.6 -2 -0.6 -1.3 -0.9 -1.3 -1.4 -0.3 -1.0 0.2 -1.0 1.1 -1.5 1.6 -0.9 4.2 -0.4 4 -1.0 5.5 0.3 3.5 0.5 5.2 0.0 6.3 1.8 2.7 0.4 5.3 0.3 10 -0.3 16.5 0.1 7.8 0.5 17.7 -0.4 7.5 0.6 2.6 0.7 1.2 0.8 -0.6 0.5 -4.1 1.0 -5.6 0.5 -13.5 -0.3 -13.2 0.4 -15.3 -0.1 -19 0.4 -5.3 1.2 -8.2 0.0 -6.5 0.4M239.5 61.8l-2.5 0.1 -4.5 -0.4 -1.5 -0.3 -1.3 -0.7 -1.2 -1.3 -0.6 -1.4 0.1 -2.3 0.7 -1.7 1.9 -1.6 4.2 -1.8 8 -1.2 2.7 0.2 5.3 0.9 1.4 0.7 1.1 1.2 0.7 1.6 0.1 1.7 -0.7 1.7 -1.3 1.3 -2.6 1.5 -2.5 0.8 -2.5 0.6 -5 0.4M230.5 104.3l-7.7 0.1 -7.8 -0.6 -2.5 -0.5 -3.5 -2.3 -1.1 -1.2 -0.8 -2.3 0.2 -2.0 1.7 -3.6 1 -1.2 7.8 -2.3 5.2 -0.4 11 0.6 2.5 0.4 2.6 1.2 1.4 1.6 1.4 4.2 0 2.2 -1.2 2.6 -1.1 1.2 -2.6 1.4 -6.5 0.9M201.8 145.3l-3 0.0 -3 -0.5 -2 -0.7 -2.1 -1.6 -0.4 -1.0 0.2 -1.0 1 -1.2 1.5 -0.6 3.2 -0.3 3.3 -0.8 5.3 0.0 4 0.5 5 0.1 3.6 1.0 5.4 1.0 5.7 0.1 10.3 -0.3 9.7 0.2 6.5 -0.1 7.5 0.6 17.5 -0.6 7.2 0.7 1.6 0.4 0.8 0.8 -0.7 0.5 -2.3 0.7 -5.6 0.6 -13 -0.5 -13.2 0.5 -34.3 0.2 -5.7 1.0 -14 0.3M238.2 61.5l-6 -0.6 -2.3 -1.1 -0.9 -1.3 -0.4 -1.5 0.2 -1.8 0.9 -1.4 2.3 -1.7 3.2 -1.4 7.8 -1.1 3 0.2 4.2 0.9 1.6 0.7 0.9 1.1 0.7 1.7 -0.3 2.0 -0.9 1.4 -2 1.5 -2 1.0 -3.2 0.9 -6.8 0.5M226.5 103.5l-4.5 0.1 -9.1 -1.4 -3.4 -1.9 -1 -1.0 -0.7 -1.8 0.3 -1.7 1.9 -3.3 1 -1.0 7 -2.4 5.2 -0.2 11 0.5 1.8 0.4 1.3 0.7 2.2 2.6 1.5 2.9 -0.1 2.0 -1.5 2.5 -1.8 1.5 -1.6 0.7 -2.8 0.1 -2.7 0.6 -4 0.1M200.5 144.8l-3.7 -0.6 -2.7 -1.0 -1.3 -1.2 -0.2 -0.8 0.2 -0.7 1.4 -1.0 3.3 -0.4 2.7 -0.7 5.3 -0.2 8.7 0.7 3.2 0.9 6.1 0.9 11.7 0.0 4.6 -0.4 9.7 0.3 6.5 -0.2 7.5 0.9 2.7 -0.3 3.8 0.1 7.2 -0.7 3.3 0.0 6.7 0.7 1.3 0.4 0.3 0.5 -0.6 0.5 -1.4 0.5 -5 0.5 -12.8 -0.8 -5.5 0.2 -7.7 0.6 -9.3 0.1 -5.7 -0.3 -12.8 0.4 -6.5 -0.3 -7 1.1 -14 0.3M239.2 61.0l-2 0.0 -3.7 -0.5 -2.5 -1.0 -0.9 -1.0 -0.5 -1.3 0 -1.7 0.6 -1.3 2 -1.6 3 -1.5 7.6 -1.0 2.7 0.1 3.5 0.6 1.8 0.7 1 1.0 0.7 1.7 -0.1 1.8 -0.7 1.2 -1.8 1.6 -1.9 0.9 -3 0.9 -5.8 0.4M225.5 102.8l-4.5 -0.1 -6.5 -1.1 -5 -2.5 -0.8 -1.3 0.1 -1.6 0.7 -1.2 2 -2.2 1.9 -1.3 4.8 -1.5 5 -0.2 12 0.8 1.1 0.6 3.5 4.3 0.3 1.5 -0.7 1.8 -1.2 1.4 -2 1.4 -5.7 0.8 -5 0.4M213.8 144.0l-14.3 0.0 -4.5 -1.5 -0.7 -0.5 -0.2 -0.8 0.2 -0.4 0.7 -0.4 5 -1.1 5.5 -0.5 8.3 0.9 5.7 1.1 3 0.8 9.3 -0.4 3 0.2 5.2 -0.5 10.5 0.5 5.7 -0.5 2.2 0.3 0.9 0.8 -1.4 0.8 -1.9 0.2 -3.8 -0.4 -5.2 0.4 -6 -0.4 -3.8 0.3 -9.4 0.1 -5.8 -0.6 -4.2 1.0 -4 0.6M283.5 143.0l-2.5 0.2 -3.8 -0.2 -4.7 -1.0 3.7 -1.1 3.3 -0.2 4.1 0.3 2.4 0.5 0.8 0.5 -0.6 0.5 -2.7 0.5M240.0 60.5l-3.5 -0.1 -2.5 -0.5 -1.5 -0.7 -1 -1.0 -0.7 -1.2 -0.2 -1.2 0.5 -1.3 1.6 -1.5 2.5 -1.4 7.8 -1.1 2.5 0.1 2.7 0.5 1.8 0.7 1.1 1.0 0.6 1.4 0 1.6 -0.7 1.2 -1.6 1.5 -1.6 0.8 -3 0.9 -4.8 0.3M224.8 102.0l-3.8 0.0 -5.5 -1.2 -2.3 -1.8 -3 -0.8 -0.4 -0.7 0 -1.0 0.7 -0.9 1.7 -1.3 1.3 -1.5 1.3 -0.9 3.4 -1.0 5.3 -0.3 6.5 0.3 4 0.7 1.2 0.7 2.9 2.7 0.8 1.0 0.1 1.2 -0.5 1.3 -1 1.0 -1.7 1.1 -1.3 0.3 -9.7 1.1M206.8 143.5l-6.8 -0.1 -1.4 -0.6 -0.5 -1.0 0.6 -1.0 1.3 -0.8 5.5 -0.6 8 1.1 4.5 1.5 -4 1.3 -7.2 0.2M281.2 142.8l-3.7 -0.3 -0.8 -0.3 -0.3 -0.4 1.2 -0.6 2.9 -0.1 2.5 0.4 0.9 0.5 -0.9 0.5 -1.8 0.3M240.8 60.0l-3.3 0.1 -3.7 -1.2 -1 -0.9 -0.8 -1.5 -0.2 -1.0 0.4 -1.0 1.6 -1.5 2 -1.0 7.4 -1.0 4.3 0.4 1.6 0.6 1.2 1.0 0.5 1.2 0 1.6 -0.7 1.2 -1.1 1.1 -1.5 0.8 -2.7 0.8 -4 0.3M226.0 101.0l-4.8 0.2 -5 -1.4 -0.5 -0.8 -0.2 -2.0 -0.9 -2.2 0.2 -1.3 0.9 -0.7 1.5 -0.6 5.6 -0.7 7.2 0.3 3.8 1.4 3 2.0 0.9 1.0 0.2 0.8 -0.4 1.0 -1.7 1.4 -9.8 1.6M206.2 143.0l-5.2 -0.3 -0.9 -0.5 -0.1 -0.4 0.5 -0.8 0.7 -0.4 4.3 -0.6 3.3 0.8 2 1.2 -1 0.6 -3.6 0.4M240.8 59.5l-3.1 0.0 -3.2 -1.2 -0.8 -0.8 -0.6 -1.3 0 -1.0 0.3 -0.7 1.6 -1.5 1.8 -0.5 1.1 0.0 1.8 1.0 1.8 0.1 0.9 -0.6 0.3 -1.2 1.3 -0.3 3.2 0.4 1.3 0.6 0.7 0.7 0.5 1.0 0 1.3 -0.5 1.3 -1 1.0 -4 1.5 -3.4 0.2M222.5 100.0l-1.7 -0.1 -1.5 -0.4 -1.2 -0.7 -0.2 -0.8 2.1 -2.3 1.3 -2.5 1.2 -0.8 2.3 0.1 1 1.0 0.5 1.7 2.9 0.3 1.8 1.8 1.8 -1.8 2.2 0.3 0.9 0.4 0.4 0.6 -0.3 1.0 -1 0.5 -3.2 0.1 -0.8 -0.4 -1.4 1.0 -1.2 0.5 -5.9 0.5M226.0 98.5l0.3 -0.7 -0.2 -1.3 -0.3 -0.7 -0.6 -0.2 -1 0.9 -0.7 1.7 0.7 0.5 1.8 -0.2M206.8 142.3l-2.6 0.1 -1.2 -0.3 -0.4 -0.3 0.6 -0.8 2.8 -0.3 1.3 0.5 0 0.8 -0.5 0.3"/>
</g>
<rect x="53.50" y="32.50" width="110.80" height="111.00" stroke="#000" stroke-width="1.4" fill="none"/>
<line x1="51.50" y1="111.49" x2="53.50" y2="111.49" stroke="#000" stroke-width="0.8" />
<line x1="51.50" y1="106.99" x2="53.50" y2="106.99" stroke="#000" stroke-width="0.8" />
<line x1="51.50" y1="103.79" x2="53.50" y2="103.79" stroke="#000" stroke-width="0.8" />
<line x1="51.50" y1="101.31" x2="53.50" y2="101.31" stroke="#000" stroke-width="0.8" />
<line x1="51.50" y1="99.28" x2="53.50" y2="99.28" stroke="#000" stroke-width="0.8" />
<line x1="51.50" y1="97.57" x2="53.50" y2="97.57" stroke="#000" stroke-width="0.8" />
<line x1="51.50" y1="96.08" x2="53.50" y2="96.08" stroke="#000" stroke-width="0.8" />
<line x1="51.50" y1="94.77" x2="53.50" y2="94.77" stroke="#000" stroke-width="0.8" />
<line x1="50.10" y1="119.20" x2="53.50" y2="119.20" stroke="#000" stroke-width="1.1" />
<line x1="51.50" y1="85.39" x2="53.50" y2="85.39" stroke="#000" stroke-width="0.8" />
<line x1="51.50" y1="80.89" x2="53.50" y2="80.89" stroke="#000" stroke-width="0.8" />
<line x1="51.50" y1="77.69" x2="53.50" y2="77.69" stroke="#000" stroke-width="0.8" />
<line x1="51.50" y1="75.21" x2="53.50" y2="75.21" stroke="#000" stroke-width="0.8" />
<line x1="51.50" y1="73.18" x2="53.50" y2="73.18" stroke="#000" stroke-width="0.8" />
<line x1="51.50" y1="71.47" x2="53.50" y2="71.47" stroke="#000" stroke-width="0.8" />
<line x1="51.50" y1="69.98" x2="53.50" y2="69.98" stroke="#000" stroke-width="0.8" />
<line x1="51.50" y1="68.67" x2="53.50" y2="68.67" stroke="#000" stroke-width="0.8" />
<line x1="50.10" y1="93.10" x2="53.50" y2="93.10" stroke="#000" stroke-width="1.1" />
<line x1="51.50" y1="59.89" x2="53.50" y2="59.89" stroke="#000" stroke-width="0.8" />
<line x1="51.50" y1="55.39" x2="53.50" y2="55.39" stroke="#000" stroke-width="0.8" />
<line x1="51.50" y1="52.19" x2="53.50" y2="52.19" stroke="#000" stroke-width="0.8" />
<line x1="51.50" y1="49.71" x2="53.50" y2="49.71" stroke="#000" stroke-width="0.8" />
<line x1="51.50" y1="47.68" x2="53.50" y2="47.68" stroke="#000" stroke-width="0.8" />
<line x1="51.50" y1="45.97" x2="53.50" y2="45.97" stroke="#000" stroke-width="0.8" />
<line x1="51.50" y1="44.48" x2="53.50" y2="44.48" stroke="#000" stroke-width="0.8" />
<line x1="51.50" y1="43.17" x2="53.50" y2="43.17" stroke="#000" stroke-width="0.8" />
<line x1="50.10" y1="67.60" x2="53.50" y2="67.60" stroke="#000" stroke-width="1.1" />
<line x1="51.50" y1="34.69" x2="53.50" y2="34.69" stroke="#000" stroke-width="0.8" />
<line x1="50.10" y1="42.40" x2="53.50" y2="42.40" stroke="#000" stroke-width="1.1" />
<line x1="50.10" y1="131.80" x2="53.50" y2="131.80" stroke="#000" stroke-width="1.1" />
<line x1="51.50" y1="126.00" x2="53.50" y2="126.00" stroke="#000" stroke-width="0.8" />
<line x1="51.50" y1="137.00" x2="53.50" y2="137.00" stroke="#000" stroke-width="0.8" />
<line x1="51.50" y1="140.50" x2="53.50" y2="140.50" stroke="#000" stroke-width="0.8" />
<text x="46.90" y="123.90" font-size="7.9" text-anchor="end" fill="#111" stroke="#111">10<tspan font-size="6.00" dy="-3.16">2</tspan></text>
<text x="46.90" y="97.80" font-size="7.9" text-anchor="end" fill="#111" stroke="#111">10<tspan font-size="6.00" dy="-3.16">3</tspan></text>
<text x="46.90" y="72.30" font-size="7.9" text-anchor="end" fill="#111" stroke="#111">10<tspan font-size="6.00" dy="-3.16">4</tspan></text>
<text x="46.90" y="47.10" font-size="7.9" text-anchor="end" fill="#111" stroke="#111">10<tspan font-size="6.00" dy="-3.16">5</tspan></text>
<text x="46.30" y="136.30" font-size="7.9" text-anchor="end" font-weight="normal" fill="#111"  stroke="#111">0</text>
<line x1="84.37" y1="143.50" x2="84.37" y2="145.80" stroke="#000" stroke-width="0.8" />
<line x1="88.91" y1="143.50" x2="88.91" y2="145.80" stroke="#000" stroke-width="0.8" />
<line x1="92.13" y1="143.50" x2="92.13" y2="145.80" stroke="#000" stroke-width="0.8" />
<line x1="94.63" y1="143.50" x2="94.63" y2="145.80" stroke="#000" stroke-width="0.8" />
<line x1="96.68" y1="143.50" x2="96.68" y2="145.80" stroke="#000" stroke-width="0.8" />
<line x1="98.40" y1="143.50" x2="98.40" y2="145.80" stroke="#000" stroke-width="0.8" />
<line x1="99.90" y1="143.50" x2="99.90" y2="145.80" stroke="#000" stroke-width="0.8" />
<line x1="101.22" y1="143.50" x2="101.22" y2="145.80" stroke="#000" stroke-width="0.8" />
<line x1="76.60" y1="143.50" x2="76.60" y2="146.90" stroke="#000" stroke-width="1.1" />
<line x1="110.77" y1="143.50" x2="110.77" y2="145.80" stroke="#000" stroke-width="0.8" />
<line x1="115.31" y1="143.50" x2="115.31" y2="145.80" stroke="#000" stroke-width="0.8" />
<line x1="118.53" y1="143.50" x2="118.53" y2="145.80" stroke="#000" stroke-width="0.8" />
<line x1="121.03" y1="143.50" x2="121.03" y2="145.80" stroke="#000" stroke-width="0.8" />
<line x1="123.08" y1="143.50" x2="123.08" y2="145.80" stroke="#000" stroke-width="0.8" />
<line x1="124.80" y1="143.50" x2="124.80" y2="145.80" stroke="#000" stroke-width="0.8" />
<line x1="126.30" y1="143.50" x2="126.30" y2="145.80" stroke="#000" stroke-width="0.8" />
<line x1="127.62" y1="143.50" x2="127.62" y2="145.80" stroke="#000" stroke-width="0.8" />
<line x1="103.00" y1="143.50" x2="103.00" y2="146.90" stroke="#000" stroke-width="1.1" />
<line x1="136.67" y1="143.50" x2="136.67" y2="145.80" stroke="#000" stroke-width="0.8" />
<line x1="141.21" y1="143.50" x2="141.21" y2="145.80" stroke="#000" stroke-width="0.8" />
<line x1="144.43" y1="143.50" x2="144.43" y2="145.80" stroke="#000" stroke-width="0.8" />
<line x1="146.93" y1="143.50" x2="146.93" y2="145.80" stroke="#000" stroke-width="0.8" />
<line x1="148.98" y1="143.50" x2="148.98" y2="145.80" stroke="#000" stroke-width="0.8" />
<line x1="150.70" y1="143.50" x2="150.70" y2="145.80" stroke="#000" stroke-width="0.8" />
<line x1="152.20" y1="143.50" x2="152.20" y2="145.80" stroke="#000" stroke-width="0.8" />
<line x1="153.52" y1="143.50" x2="153.52" y2="145.80" stroke="#000" stroke-width="0.8" />
<line x1="128.90" y1="143.50" x2="128.90" y2="146.90" stroke="#000" stroke-width="1.1" />
<line x1="160.97" y1="143.50" x2="160.97" y2="145.80" stroke="#000" stroke-width="0.8" />
<line x1="153.20" y1="143.50" x2="153.20" y2="146.90" stroke="#000" stroke-width="1.1" />
<line x1="65.20" y1="143.50" x2="65.20" y2="146.90" stroke="#000" stroke-width="1.1" />
<line x1="58.50" y1="143.50" x2="58.50" y2="145.80" stroke="#000" stroke-width="0.8" />
<line x1="61.50" y1="143.50" x2="61.50" y2="145.80" stroke="#000" stroke-width="0.8" />
<line x1="69.00" y1="143.50" x2="69.00" y2="145.80" stroke="#000" stroke-width="0.8" />
<line x1="72.00" y1="143.50" x2="72.00" y2="145.80" stroke="#000" stroke-width="0.8" />
<text x="65.20" y="157.10" font-size="7.9" text-anchor="middle" font-weight="normal" fill="#111"  stroke="#111">0</text>
<text x="77.50" y="157.10" font-size="7.9" text-anchor="middle" fill="#111" stroke="#111">10<tspan font-size="6.00" dy="-3.16">2</tspan></text>
<text x="103.90" y="157.10" font-size="7.9" text-anchor="middle" fill="#111" stroke="#111">10<tspan font-size="6.00" dy="-3.16">3</tspan></text>
<text x="129.80" y="157.10" font-size="7.9" text-anchor="middle" fill="#111" stroke="#111">10<tspan font-size="6.00" dy="-3.16">4</tspan></text>
<text x="154.10" y="157.10" font-size="7.9" text-anchor="middle" fill="#111" stroke="#111">10<tspan font-size="6.00" dy="-3.16">5</tspan></text>
<rect x="190.60" y="32.50" width="110.90" height="111.00" stroke="#000" stroke-width="1.4" fill="none"/>
<line x1="188.60" y1="111.49" x2="190.60" y2="111.49" stroke="#000" stroke-width="0.8" />
<line x1="188.60" y1="106.99" x2="190.60" y2="106.99" stroke="#000" stroke-width="0.8" />
<line x1="188.60" y1="103.79" x2="190.60" y2="103.79" stroke="#000" stroke-width="0.8" />
<line x1="188.60" y1="101.31" x2="190.60" y2="101.31" stroke="#000" stroke-width="0.8" />
<line x1="188.60" y1="99.28" x2="190.60" y2="99.28" stroke="#000" stroke-width="0.8" />
<line x1="188.60" y1="97.57" x2="190.60" y2="97.57" stroke="#000" stroke-width="0.8" />
<line x1="188.60" y1="96.08" x2="190.60" y2="96.08" stroke="#000" stroke-width="0.8" />
<line x1="188.60" y1="94.77" x2="190.60" y2="94.77" stroke="#000" stroke-width="0.8" />
<line x1="187.20" y1="119.20" x2="190.60" y2="119.20" stroke="#000" stroke-width="1.1" />
<line x1="188.60" y1="85.39" x2="190.60" y2="85.39" stroke="#000" stroke-width="0.8" />
<line x1="188.60" y1="80.89" x2="190.60" y2="80.89" stroke="#000" stroke-width="0.8" />
<line x1="188.60" y1="77.69" x2="190.60" y2="77.69" stroke="#000" stroke-width="0.8" />
<line x1="188.60" y1="75.21" x2="190.60" y2="75.21" stroke="#000" stroke-width="0.8" />
<line x1="188.60" y1="73.18" x2="190.60" y2="73.18" stroke="#000" stroke-width="0.8" />
<line x1="188.60" y1="71.47" x2="190.60" y2="71.47" stroke="#000" stroke-width="0.8" />
<line x1="188.60" y1="69.98" x2="190.60" y2="69.98" stroke="#000" stroke-width="0.8" />
<line x1="188.60" y1="68.67" x2="190.60" y2="68.67" stroke="#000" stroke-width="0.8" />
<line x1="187.20" y1="93.10" x2="190.60" y2="93.10" stroke="#000" stroke-width="1.1" />
<line x1="188.60" y1="59.89" x2="190.60" y2="59.89" stroke="#000" stroke-width="0.8" />
<line x1="188.60" y1="55.39" x2="190.60" y2="55.39" stroke="#000" stroke-width="0.8" />
<line x1="188.60" y1="52.19" x2="190.60" y2="52.19" stroke="#000" stroke-width="0.8" />
<line x1="188.60" y1="49.71" x2="190.60" y2="49.71" stroke="#000" stroke-width="0.8" />
<line x1="188.60" y1="47.68" x2="190.60" y2="47.68" stroke="#000" stroke-width="0.8" />
<line x1="188.60" y1="45.97" x2="190.60" y2="45.97" stroke="#000" stroke-width="0.8" />
<line x1="188.60" y1="44.48" x2="190.60" y2="44.48" stroke="#000" stroke-width="0.8" />
<line x1="188.60" y1="43.17" x2="190.60" y2="43.17" stroke="#000" stroke-width="0.8" />
<line x1="187.20" y1="67.60" x2="190.60" y2="67.60" stroke="#000" stroke-width="1.1" />
<line x1="188.60" y1="34.69" x2="190.60" y2="34.69" stroke="#000" stroke-width="0.8" />
<line x1="187.20" y1="42.40" x2="190.60" y2="42.40" stroke="#000" stroke-width="1.1" />
<line x1="187.20" y1="131.80" x2="190.60" y2="131.80" stroke="#000" stroke-width="1.1" />
<line x1="188.60" y1="126.00" x2="190.60" y2="126.00" stroke="#000" stroke-width="0.8" />
<line x1="188.60" y1="137.00" x2="190.60" y2="137.00" stroke="#000" stroke-width="0.8" />
<line x1="188.60" y1="140.50" x2="190.60" y2="140.50" stroke="#000" stroke-width="0.8" />
<text x="184.00" y="123.90" font-size="7.9" text-anchor="end" fill="#111" stroke="#111">10<tspan font-size="6.00" dy="-3.16">2</tspan></text>
<text x="184.00" y="97.80" font-size="7.9" text-anchor="end" fill="#111" stroke="#111">10<tspan font-size="6.00" dy="-3.16">3</tspan></text>
<text x="184.00" y="72.30" font-size="7.9" text-anchor="end" fill="#111" stroke="#111">10<tspan font-size="6.00" dy="-3.16">4</tspan></text>
<text x="184.00" y="47.10" font-size="7.9" text-anchor="end" fill="#111" stroke="#111">10<tspan font-size="6.00" dy="-3.16">5</tspan></text>
<text x="183.40" y="136.30" font-size="7.9" text-anchor="end" font-weight="normal" fill="#111"  stroke="#111">0</text>
<line x1="221.47" y1="143.50" x2="221.47" y2="145.80" stroke="#000" stroke-width="0.8" />
<line x1="226.01" y1="143.50" x2="226.01" y2="145.80" stroke="#000" stroke-width="0.8" />
<line x1="229.23" y1="143.50" x2="229.23" y2="145.80" stroke="#000" stroke-width="0.8" />
<line x1="231.73" y1="143.50" x2="231.73" y2="145.80" stroke="#000" stroke-width="0.8" />
<line x1="233.78" y1="143.50" x2="233.78" y2="145.80" stroke="#000" stroke-width="0.8" />
<line x1="235.50" y1="143.50" x2="235.50" y2="145.80" stroke="#000" stroke-width="0.8" />
<line x1="237.00" y1="143.50" x2="237.00" y2="145.80" stroke="#000" stroke-width="0.8" />
<line x1="238.32" y1="143.50" x2="238.32" y2="145.80" stroke="#000" stroke-width="0.8" />
<line x1="213.70" y1="143.50" x2="213.70" y2="146.90" stroke="#000" stroke-width="1.1" />
<line x1="247.87" y1="143.50" x2="247.87" y2="145.80" stroke="#000" stroke-width="0.8" />
<line x1="252.41" y1="143.50" x2="252.41" y2="145.80" stroke="#000" stroke-width="0.8" />
<line x1="255.63" y1="143.50" x2="255.63" y2="145.80" stroke="#000" stroke-width="0.8" />
<line x1="258.13" y1="143.50" x2="258.13" y2="145.80" stroke="#000" stroke-width="0.8" />
<line x1="260.18" y1="143.50" x2="260.18" y2="145.80" stroke="#000" stroke-width="0.8" />
<line x1="261.90" y1="143.50" x2="261.90" y2="145.80" stroke="#000" stroke-width="0.8" />
<line x1="263.40" y1="143.50" x2="263.40" y2="145.80" stroke="#000" stroke-width="0.8" />
<line x1="264.72" y1="143.50" x2="264.72" y2="145.80" stroke="#000" stroke-width="0.8" />
<line x1="240.10" y1="143.50" x2="240.10" y2="146.90" stroke="#000" stroke-width="1.1" />
<line x1="273.77" y1="143.50" x2="273.77" y2="145.80" stroke="#000" stroke-width="0.8" />
<line x1="278.31" y1="143.50" x2="278.31" y2="145.80" stroke="#000" stroke-width="0.8" />
<line x1="281.53" y1="143.50" x2="281.53" y2="145.80" stroke="#000" stroke-width="0.8" />
<line x1="284.03" y1="143.50" x2="284.03" y2="145.80" stroke="#000" stroke-width="0.8" />
<line x1="286.08" y1="143.50" x2="286.08" y2="145.80" stroke="#000" stroke-width="0.8" />
<line x1="287.80" y1="143.50" x2="287.80" y2="145.80" stroke="#000" stroke-width="0.8" />
<line x1="289.30" y1="143.50" x2="289.30" y2="145.80" stroke="#000" stroke-width="0.8" />
<line x1="290.62" y1="143.50" x2="290.62" y2="145.80" stroke="#000" stroke-width="0.8" />
<line x1="266.00" y1="143.50" x2="266.00" y2="146.90" stroke="#000" stroke-width="1.1" />
<line x1="298.07" y1="143.50" x2="298.07" y2="145.80" stroke="#000" stroke-width="0.8" />
<line x1="290.30" y1="143.50" x2="290.30" y2="146.90" stroke="#000" stroke-width="1.1" />
<line x1="202.30" y1="143.50" x2="202.30" y2="146.90" stroke="#000" stroke-width="1.1" />
<line x1="195.60" y1="143.50" x2="195.60" y2="145.80" stroke="#000" stroke-width="0.8" />
<line x1="198.60" y1="143.50" x2="198.60" y2="145.80" stroke="#000" stroke-width="0.8" />
<line x1="206.10" y1="143.50" x2="206.10" y2="145.80" stroke="#000" stroke-width="0.8" />
<line x1="209.10" y1="143.50" x2="209.10" y2="145.80" stroke="#000" stroke-width="0.8" />
<text x="202.30" y="157.10" font-size="7.9" text-anchor="middle" font-weight="normal" fill="#111"  stroke="#111">0</text>
<text x="214.60" y="157.10" font-size="7.9" text-anchor="middle" fill="#111" stroke="#111">10<tspan font-size="6.00" dy="-3.16">2</tspan></text>
<text x="241.00" y="157.10" font-size="7.9" text-anchor="middle" fill="#111" stroke="#111">10<tspan font-size="6.00" dy="-3.16">3</tspan></text>
<text x="266.90" y="157.10" font-size="7.9" text-anchor="middle" fill="#111" stroke="#111">10<tspan font-size="6.00" dy="-3.16">4</tspan></text>
<text x="291.20" y="157.10" font-size="7.9" text-anchor="middle" fill="#111" stroke="#111">10<tspan font-size="6.00" dy="-3.16">5</tspan></text>
<rect x="84.20" y="43.70" width="42.30" height="25.30" stroke="#bc4450" stroke-width="1.0" fill="none"/>
<rect x="84.20" y="71.60" width="41.40" height="64.90" stroke="#bc4450" stroke-width="1.0" fill="none"/>
<rect x="127.60" y="71.60" width="32.60" height="64.90" stroke="#bc4450" stroke-width="1.0" fill="none"/>
<rect x="221.30" y="43.70" width="42.30" height="25.30" stroke="#bc4450" stroke-width="1.0" fill="none"/>
<rect x="221.30" y="71.60" width="41.40" height="64.90" stroke="#bc4450" stroke-width="1.0" fill="none"/>
<rect x="264.70" y="71.60" width="32.60" height="64.90" stroke="#bc4450" stroke-width="1.0" fill="none"/>
<text x="117.60" y="41.50" font-size="8" text-anchor="middle" font-weight="normal" fill="#b84a55"  stroke="#b84a55">1.3</text>
<text x="155.60" y="68.90" font-size="8" text-anchor="middle" font-weight="normal" fill="#456a80"  stroke="#456a80">0</text>
<text x="115.50" y="133.20" font-size="8" text-anchor="middle" font-weight="normal" fill="#222"  stroke="#222">3.4</text>
<text x="249.30" y="41.30" font-size="8" text-anchor="middle" font-weight="normal" fill="#b84a55"  stroke="#b84a55">13</text>
<text x="292.80" y="69.40" font-size="8" text-anchor="middle" font-weight="normal" fill="#456a80"  stroke="#456a80">3</text>
<text x="255.20" y="132.60" font-size="8" text-anchor="middle" font-weight="normal" fill="#222"  stroke="#222">23</text>
<line x1="24.40" y1="111.50" x2="24.40" y2="37.70" stroke="#000" stroke-width="1.3" />
<path d="M21.10,40.20 L24.40,32.70 L27.70,40.20 L24.40,39.00 Z" fill="#000"/>
<text transform="translate(27.6,129.5) rotate(-90)" font-size="9" text-anchor="middle" fill="#111" stroke="#111">CD42b</text>
<text x="58.30" y="171.20" font-size="9" text-anchor="middle" font-weight="normal" fill="#111"  stroke="#111">FV</text>
<line x1="66.50" y1="168.60" x2="291.50" y2="168.60" stroke="#000" stroke-width="1.3" />
<path d="M289.00,165.30 L296.50,168.60 L289.00,171.90 L290.20,168.60 Z" fill="#000"/>
<text x="434.70" y="34.60" font-size="10.3" text-anchor="middle" font-weight="bold" fill="#000"  stroke="#000">Relative sizes of platelets</text>
<line x1="371.60" y1="36.00" x2="497.80" y2="36.00" stroke="#333" stroke-width="0.9" />
<line x1="356.80" y1="40.30" x2="356.80" y2="143.30" stroke="#000" stroke-width="1.4" />
<line x1="356.40" y1="143.00" x2="506.50" y2="143.00" stroke="#000" stroke-width="1.3" />
<line x1="353.00" y1="143.30" x2="357.00" y2="143.30" stroke="#000" stroke-width="1.1" />
<text x="350.90" y="146.30" font-size="8.3" text-anchor="end" font-weight="normal" fill="#111"  stroke="#111">0</text>
<line x1="353.00" y1="118.30" x2="357.00" y2="118.30" stroke="#000" stroke-width="1.1" />
<text x="350.90" y="121.30" font-size="8.3" text-anchor="end" font-weight="normal" fill="#111"  stroke="#111">2</text>
<line x1="353.00" y1="93.30" x2="357.00" y2="93.30" stroke="#000" stroke-width="1.1" />
<text x="350.90" y="96.30" font-size="8.3" text-anchor="end" font-weight="normal" fill="#111"  stroke="#111">4</text>
<line x1="353.00" y1="68.30" x2="357.00" y2="68.30" stroke="#000" stroke-width="1.1" />
<text x="350.90" y="71.30" font-size="8.3" text-anchor="end" font-weight="normal" fill="#111"  stroke="#111">6</text>
<line x1="353.00" y1="43.30" x2="357.00" y2="43.30" stroke="#000" stroke-width="1.1" />
<text x="350.90" y="46.30" font-size="8.3" text-anchor="end" font-weight="normal" fill="#111"  stroke="#111">8</text>
<line x1="376.20" y1="143.00" x2="376.20" y2="146.80" stroke="#000" stroke-width="1.1" />
<line x1="415.00" y1="143.00" x2="415.00" y2="146.80" stroke="#000" stroke-width="1.1" />
<line x1="453.90" y1="143.00" x2="453.90" y2="146.80" stroke="#000" stroke-width="1.1" />
<line x1="493.00" y1="143.00" x2="493.00" y2="146.80" stroke="#000" stroke-width="1.1" />
<text transform="translate(339.7,91.7) rotate(-90)" font-size="8.8" text-anchor="middle" fill="#111" stroke="#111">Relative size</text>
<text x="376.80" y="157.60" font-size="8.5" text-anchor="middle" fill="#111" stroke="#111">CD42b<tspan font-size="5.2" dy="-3.6">+</tspan></text>
<text x="376.80" y="167.80" font-size="8.5" text-anchor="middle" fill="#111" stroke="#111">FV<tspan font-size="5.2" dy="-3.6">+</tspan></text>
<text x="415.60" y="157.60" font-size="8.5" text-anchor="middle" fill="#111" stroke="#111">CD42b<tspan font-size="5.2" dy="-3.6">-</tspan></text>
<text x="415.00" y="167.80" font-size="8.5" text-anchor="middle" fill="#111" stroke="#111">FV<tspan font-size="6.1" dy="-2.9">high</tspan></text>
<text x="454.50" y="157.60" font-size="8.5" text-anchor="middle" fill="#111" stroke="#111">CD42b<tspan font-size="5.2" dy="-3.6">-</tspan></text>
<text x="493.00" y="157.60" font-size="8.5" text-anchor="middle" font-weight="normal" fill="#111"  stroke="#111">Human</text>
<path d="M358.20,171.20 L358.20,181.30 L471.90,181.30 L471.90,171.20" fill="none" stroke="#000" stroke-width="1.3"/>
<text x="414.80" y="194.40" font-size="8.3" text-anchor="middle" font-weight="normal" fill="#111"  stroke="#111">In vitro</text>
<line x1="376.00" y1="67.30" x2="376.00" y2="76.40" stroke="#b3123b" stroke-width="1.0" />
<line x1="369.20" y1="67.30" x2="382.80" y2="67.30" stroke="#b3123b" stroke-width="1.0" />
<line x1="369.20" y1="76.40" x2="382.80" y2="76.40" stroke="#b3123b" stroke-width="1.0" />
<line x1="363.50" y1="72.00" x2="388.50" y2="72.00" stroke="#000" stroke-width="1.4" />
<circle cx="376.00" cy="59.90" r="3.1" fill="#b3123b"/>
<circle cx="371.10" cy="72.50" r="3.1" fill="#b3123b"/>
<circle cx="380.70" cy="72.50" r="3.1" fill="#b3123b"/>
<circle cx="376.00" cy="83.10" r="3.1" fill="#b3123b"/>
<line x1="363.50" y1="72.00" x2="388.70" y2="72.00" stroke="#000" stroke-width="1.4" />
<line x1="415.10" y1="107.50" x2="415.10" y2="122.00" stroke="#2d4b82" stroke-width="1.0" />
<line x1="408.65" y1="107.50" x2="421.55" y2="107.50" stroke="#2d4b82" stroke-width="1.0" />
<line x1="408.65" y1="122.00" x2="421.55" y2="122.00" stroke="#2d4b82" stroke-width="1.0" />
<line x1="402.20" y1="115.00" x2="428.00" y2="115.00" stroke="#000" stroke-width="1.4" />
<path d="M415.10,94.70 L418.00,97.60 L415.10,100.50 L412.20,97.60 Z" fill="#2d4b82"/>
<path d="M415.10,105.60 L418.00,108.50 L415.10,111.40 L412.20,108.50 Z" fill="#2d4b82"/>
<path d="M419.80,121.80 L422.70,124.70 L419.80,127.60 L416.90,124.70 Z" fill="#2d4b82"/>
<path d="M410.60,126.10 L413.50,129.00 L410.60,131.90 L407.70,129.00 Z" fill="#2d4b82"/>
<line x1="454.00" y1="133.00" x2="454.00" y2="136.00" stroke="#6cab4c" stroke-width="1.0" />
<line x1="448.00" y1="133.00" x2="460.00" y2="133.00" stroke="#6cab4c" stroke-width="1.0" />
<line x1="448.00" y1="136.00" x2="460.00" y2="136.00" stroke="#6cab4c" stroke-width="1.0" />
<line x1="441.10" y1="134.50" x2="466.90" y2="134.50" stroke="#000" stroke-width="1.4" />
<path d="M444.20,129.97 L446.70,134.47 L441.70,134.47 Z" fill="#6cab4c"/>
<path d="M463.80,129.68 L466.30,134.18 L461.30,134.18 Z" fill="#6cab4c"/>
<path d="M450.60,135.18 L453.10,139.68 L448.10,139.68 Z" fill="#6cab4c"/>
<path d="M457.70,134.68 L460.20,139.18 L455.20,139.18 Z" fill="#6cab4c"/>
<line x1="441.10" y1="134.50" x2="466.90" y2="134.50" stroke="#000" stroke-width="1.4" />
<line x1="493.00" y1="114.60" x2="493.00" y2="118.20" stroke="#e0a033" stroke-width="1.0" />
<line x1="487.00" y1="114.60" x2="499.00" y2="114.60" stroke="#e0a033" stroke-width="1.0" />
<line x1="487.00" y1="118.20" x2="499.00" y2="118.20" stroke="#e0a033" stroke-width="1.0" />
<line x1="480.10" y1="116.40" x2="505.90" y2="116.40" stroke="#000" stroke-width="1.4" />
<rect x="500.20" y="108.80" width="4.80" height="4.80" fill="#e0a033"/>
<rect x="480.80" y="116.40" width="4.80" height="4.80" fill="#e0a033"/>
<rect x="487.30" y="117.00" width="4.80" height="4.80" fill="#e0a033"/>
<rect x="493.40" y="116.10" width="4.80" height="4.80" fill="#e0a033"/>
<line x1="480.20" y1="116.40" x2="506.00" y2="116.40" stroke="#000" stroke-width="1.4" />
<text x="139.40" y="238.60" font-size="10.3" text-anchor="middle" font-weight="bold" fill="#000"  stroke="#000">AnnexinV expression</text>
<line x1="86.80" y1="240.00" x2="192.00" y2="240.00" stroke="#333" stroke-width="0.9" />
<line x1="60.60" y1="244.70" x2="60.60" y2="347.50" stroke="#000" stroke-width="1.3" />
<line x1="57.00" y1="347.30" x2="218.00" y2="347.30" stroke="#000" stroke-width="1.3" />
<line x1="56.60" y1="248.00" x2="60.60" y2="248.00" stroke="#000" stroke-width="1.1" />
<text x="54.00" y="251.00" font-size="8.4" text-anchor="end" font-weight="normal" fill="#111"  stroke="#111">1000</text>
<line x1="56.60" y1="297.60" x2="60.60" y2="297.60" stroke="#000" stroke-width="1.1" />
<text x="54.00" y="300.60" font-size="8.4" text-anchor="end" font-weight="normal" fill="#111"  stroke="#111">500</text>
<line x1="56.60" y1="347.30" x2="60.60" y2="347.30" stroke="#000" stroke-width="1.1" />
<text x="54.00" y="350.30" font-size="8.4" text-anchor="end" font-weight="normal" fill="#111"  stroke="#111">0</text>
<line x1="79.30" y1="347.30" x2="79.30" y2="351.20" stroke="#000" stroke-width="1.1" />
<line x1="119.60" y1="347.30" x2="119.60" y2="351.20" stroke="#000" stroke-width="1.1" />
<line x1="158.80" y1="347.30" x2="158.80" y2="351.20" stroke="#000" stroke-width="1.1" />
<line x1="197.80" y1="347.30" x2="197.80" y2="351.20" stroke="#000" stroke-width="1.1" />
<text transform="translate(28.8,296.2) rotate(-90)" font-size="9" text-anchor="middle" fill="#111" stroke="#111">Fold over background</text>
<text x="79.90" y="362.20" font-size="8.5" text-anchor="middle" fill="#111" stroke="#111">CD42b<tspan font-size="5.2" dy="-3.6">+</tspan></text>
<text x="79.90" y="372.30" font-size="8.5" text-anchor="middle" fill="#111" stroke="#111">FV<tspan font-size="5.2" dy="-3.6">+</tspan></text>
<text x="120.20" y="362.20" font-size="8.5" text-anchor="middle" fill="#111" stroke="#111">CD42b<tspan font-size="5.2" dy="-3.6">-</tspan></text>
<text x="119.60" y="372.30" font-size="8.5" text-anchor="middle" fill="#111" stroke="#111">FV<tspan font-size="6.1" dy="-2.9">high</tspan></text>
<text x="159.40" y="362.20" font-size="8.5" text-anchor="middle" fill="#111" stroke="#111">CD42b<tspan font-size="5.2" dy="-3.6">-</tspan></text>
<text x="197.80" y="362.20" font-size="8.5" text-anchor="middle" font-weight="normal" fill="#111"  stroke="#111">Human</text>
<path d="M61.40,375.00 L61.40,385.30 L175.70,385.30 L175.70,375.00" fill="none" stroke="#000" stroke-width="1.3"/>
<text x="118.50" y="398.20" font-size="8.3" text-anchor="middle" font-weight="normal" fill="#111"  stroke="#111">In vitro</text>
<circle cx="70.00" cy="344.60" r="3.1" fill="#b3123b"/>
<circle cx="76.60" cy="344.60" r="3.1" fill="#b3123b"/>
<circle cx="83.20" cy="344.60" r="3.1" fill="#b3123b"/>
<circle cx="90.40" cy="344.60" r="3.1" fill="#b3123b"/>
<line x1="67.00" y1="344.60" x2="92.00" y2="344.60" stroke="#000" stroke-width="1.2" />
<line x1="119.30" y1="265.50" x2="119.30" y2="281.60" stroke="#2d4b82" stroke-width="1.0" />
<line x1="113.35" y1="265.50" x2="125.25" y2="265.50" stroke="#2d4b82" stroke-width="1.0" />
<line x1="113.35" y1="281.60" x2="125.25" y2="281.60" stroke="#2d4b82" stroke-width="1.0" />
<line x1="106.35" y1="273.60" x2="132.25" y2="273.60" stroke="#000" stroke-width="1.4" />
<path d="M119.30,255.80 L122.20,258.70 L119.30,261.60 L116.40,258.70 Z" fill="#2d4b82"/>
<path d="M113.80,265.30 L116.70,268.20 L113.80,271.10 L110.90,268.20 Z" fill="#2d4b82"/>
<path d="M123.80,265.30 L126.70,268.20 L123.80,271.10 L120.90,268.20 Z" fill="#2d4b82"/>
<path d="M119.30,293.30 L122.20,296.20 L119.30,299.10 L116.40,296.20 Z" fill="#2d4b82"/>
<line x1="106.40" y1="273.60" x2="132.30" y2="273.60" stroke="#000" stroke-width="1.4" />
<line x1="158.70" y1="296.80" x2="158.70" y2="306.90" stroke="#6cab4c" stroke-width="1.0" />
<line x1="152.75" y1="296.80" x2="164.65" y2="296.80" stroke="#6cab4c" stroke-width="1.0" />
<line x1="152.75" y1="306.90" x2="164.65" y2="306.90" stroke="#6cab4c" stroke-width="1.0" />
<line x1="145.80" y1="301.30" x2="171.60" y2="301.30" stroke="#000" stroke-width="1.4" />
<path d="M158.70,287.25 L161.70,292.65 L155.70,292.65 Z" fill="#6cab4c"/>
<path d="M155.00,296.05 L158.00,301.45 L152.00,301.45 Z" fill="#6cab4c"/>
<path d="M163.00,300.85 L166.00,306.25 L160.00,306.25 Z" fill="#6cab4c"/>
<path d="M158.70,313.65 L161.70,319.05 L155.70,319.05 Z" fill="#6cab4c"/>
<line x1="146.00" y1="301.30" x2="171.80" y2="301.30" stroke="#000" stroke-width="1.4" />
<rect x="187.40" y="344.90" width="4.80" height="4.80" fill="#e0a033"/>
<rect x="195.40" y="344.90" width="4.80" height="4.80" fill="#e0a033"/>
<rect x="203.40" y="344.90" width="4.80" height="4.80" fill="#e0a033"/>
<line x1="185.00" y1="347.30" x2="210.50" y2="347.30" stroke="#000" stroke-width="1.3" />
<text x="354.80" y="238.70" font-size="10.3" text-anchor="middle" font-weight="bold" fill="#000"  stroke="#000">CD62P expression</text>
<line x1="309.40" y1="240.10" x2="400.20" y2="240.10" stroke="#333" stroke-width="0.9" />
<line x1="276.50" y1="244.50" x2="276.50" y2="282.80" stroke="#000" stroke-width="1.4" />
<line x1="273.90" y1="282.50" x2="278.90" y2="282.50" stroke="#000" stroke-width="1.2" />
<line x1="273.90" y1="291.70" x2="278.90" y2="291.70" stroke="#000" stroke-width="1.2" />
<line x1="276.50" y1="291.20" x2="276.50" y2="347.50" stroke="#000" stroke-width="1.4" />
<line x1="276.20" y1="347.40" x2="433.80" y2="347.40" stroke="#000" stroke-width="1.3" />
<line x1="273.20" y1="248.20" x2="276.50" y2="248.20" stroke="#000" stroke-width="1.1" />
<text x="270.30" y="251.20" font-size="8.3" text-anchor="end" font-weight="normal" fill="#111"  stroke="#111">50</text>
<line x1="273.20" y1="261.80" x2="276.50" y2="261.80" stroke="#000" stroke-width="1.1" />
<text x="270.30" y="264.80" font-size="8.3" text-anchor="end" font-weight="normal" fill="#111"  stroke="#111">40</text>
<line x1="273.20" y1="275.50" x2="276.50" y2="275.50" stroke="#000" stroke-width="1.1" />
<text x="270.30" y="278.50" font-size="8.3" text-anchor="end" font-weight="normal" fill="#111"  stroke="#111">30</text>
<line x1="273.20" y1="291.80" x2="276.50" y2="291.80" stroke="#000" stroke-width="1.1" />
<text x="270.30" y="294.80" font-size="8.3" text-anchor="end" font-weight="normal" fill="#111"  stroke="#111">6</text>
<line x1="273.20" y1="310.50" x2="276.50" y2="310.50" stroke="#000" stroke-width="1.1" />
<text x="270.30" y="313.50" font-size="8.3" text-anchor="end" font-weight="normal" fill="#111"  stroke="#111">4</text>
<line x1="273.20" y1="329.00" x2="276.50" y2="329.00" stroke="#000" stroke-width="1.1" />
<text x="270.30" y="332.00" font-size="8.3" text-anchor="end" font-weight="normal" fill="#111"  stroke="#111">2</text>
<line x1="273.20" y1="347.40" x2="276.50" y2="347.40" stroke="#000" stroke-width="1.1" />
<text x="270.30" y="350.40" font-size="8.3" text-anchor="end" font-weight="normal" fill="#111"  stroke="#111">0</text>
<line x1="296.20" y1="347.40" x2="296.20" y2="351.20" stroke="#000" stroke-width="1.1" />
<line x1="335.50" y1="347.40" x2="335.50" y2="351.20" stroke="#000" stroke-width="1.1" />
<line x1="374.60" y1="347.40" x2="374.60" y2="351.20" stroke="#000" stroke-width="1.1" />
<line x1="413.70" y1="347.40" x2="413.70" y2="351.20" stroke="#000" stroke-width="1.1" />
<text transform="translate(254.2,296.4) rotate(-90)" font-size="9" text-anchor="middle" fill="#111" stroke="#111">Fold over baseline</text>
<text x="296.80" y="361.90" font-size="8.5" text-anchor="middle" fill="#111" stroke="#111">CD42b<tspan font-size="5.2" dy="-3.6">+</tspan></text>
<text x="296.80" y="372.00" font-size="8.5" text-anchor="middle" fill="#111" stroke="#111">FV<tspan font-size="5.2" dy="-3.6">+</tspan></text>
<text x="336.10" y="361.90" font-size="8.5" text-anchor="middle" fill="#111" stroke="#111">CD42b<tspan font-size="5.2" dy="-3.6">-</tspan></text>
<text x="335.50" y="372.00" font-size="8.5" text-anchor="middle" fill="#111" stroke="#111">FV<tspan font-size="6.1" dy="-2.9">high</tspan></text>
<text x="375.20" y="361.90" font-size="8.5" text-anchor="middle" fill="#111" stroke="#111">CD42b<tspan font-size="5.2" dy="-3.6">-</tspan></text>
<text x="413.70" y="361.90" font-size="8.5" text-anchor="middle" font-weight="normal" fill="#111"  stroke="#111">Human</text>
<path d="M276.50,375.30 L276.50,385.80 L393.60,385.80 L393.60,375.30" fill="none" stroke="#000" stroke-width="1.3"/>
<text x="335.40" y="398.40" font-size="8.3" text-anchor="middle" font-weight="normal" fill="#111"  stroke="#111">In vitro</text>
<line x1="296.00" y1="306.40" x2="296.00" y2="314.50" stroke="#b3123b" stroke-width="1.0" />
<line x1="289.60" y1="306.40" x2="302.40" y2="306.40" stroke="#b3123b" stroke-width="1.0" />
<line x1="289.60" y1="314.50" x2="302.40" y2="314.50" stroke="#b3123b" stroke-width="1.0" />
<line x1="283.30" y1="310.20" x2="308.70" y2="310.20" stroke="#000" stroke-width="1.4" />
<circle cx="296.30" cy="294.20" r="2.9" fill="#b3123b"/>
<circle cx="285.90" cy="313.10" r="2.9" fill="#b3123b"/>
<circle cx="306.30" cy="310.90" r="2.9" fill="#b3123b"/>
<circle cx="299.50" cy="314.90" r="2.9" fill="#b3123b"/>
<circle cx="292.30" cy="320.00" r="2.9" fill="#b3123b"/>
<line x1="283.20" y1="310.20" x2="308.60" y2="310.20" stroke="#000" stroke-width="1.4" />
<path d="M325.50,335.70 L328.10,338.30 L325.50,340.90 L322.90,338.30 Z" fill="#2d4b82"/>
<path d="M330.75,335.70 L333.35,338.30 L330.75,340.90 L328.15,338.30 Z" fill="#2d4b82"/>
<path d="M336.00,335.70 L338.60,338.30 L336.00,340.90 L333.40,338.30 Z" fill="#2d4b82"/>
<path d="M341.25,335.70 L343.85,338.30 L341.25,340.90 L338.65,338.30 Z" fill="#2d4b82"/>
<path d="M346.50,335.70 L349.10,338.30 L346.50,340.90 L343.90,338.30 Z" fill="#2d4b82"/>
<line x1="322.00" y1="338.30" x2="347.70" y2="338.30" stroke="#000" stroke-width="1.4" />
<path d="M363.50,335.77 L366.20,340.62 L360.80,340.62 Z" fill="#6cab4c"/>
<path d="M368.88,335.77 L371.57,340.62 L366.18,340.62 Z" fill="#6cab4c"/>
<path d="M374.25,335.77 L376.95,340.62 L371.55,340.62 Z" fill="#6cab4c"/>
<path d="M379.62,335.77 L382.32,340.62 L376.93,340.62 Z" fill="#6cab4c"/>
<path d="M385.00,335.77 L387.70,340.62 L382.30,340.62 Z" fill="#6cab4c"/>
<line x1="361.20" y1="338.50" x2="387.50" y2="338.50" stroke="#000" stroke-width="1.4" />
<line x1="413.60" y1="261.80" x2="413.60" y2="273.10" stroke="#e0a033" stroke-width="1.0" />
<line x1="407.60" y1="261.80" x2="419.60" y2="261.80" stroke="#e0a033" stroke-width="1.0" />
<line x1="407.60" y1="273.10" x2="419.60" y2="273.10" stroke="#e0a033" stroke-width="1.0" />
<line x1="400.95" y1="267.20" x2="426.25" y2="267.20" stroke="#000" stroke-width="1.4" />
<rect x="411.00" y="249.70" width="4.80" height="4.80" fill="#e0a033"/>
<rect x="411.00" y="262.10" width="4.80" height="4.80" fill="#e0a033"/>
<rect x="415.30" y="270.70" width="4.80" height="4.80" fill="#e0a033"/>
<rect x="407.20" y="276.10" width="4.80" height="4.80" fill="#e0a033"/>
<line x1="401.00" y1="267.20" x2="426.30" y2="267.20" stroke="#000" stroke-width="1.4" />
<text x="344.60" y="441.10" font-size="10.3" text-anchor="middle" font-weight="bold" fill="#000"  stroke="#000">In vitro platelets</text>
<path d="M223.5,454.3 L223.5,445.9 L465.7,445.9 L465.7,454.3" fill="none" stroke="#000" stroke-width="1.3"/>
<polygon points="57.80,558.20 57.80,527.00 57.50,527.00 59.00,525.00 61.20,525.50 62.80,530.00 65.00,526.00 66.50,524.00 68.00,522.30 70.00,523.00 72.00,519.20 73.50,520.00 75.00,514.60 77.00,508.70 78.50,507.00 80.00,504.50 82.00,496.00 84.00,485.00 85.00,480.00 86.00,477.30 87.00,474.50 88.00,476.00 89.00,474.00 90.00,475.80 91.00,483.50 92.00,490.00 93.00,499.00 95.00,519.00 97.00,536.30 99.00,545.00 100.00,547.00 101.50,548.00 103.00,549.50 105.00,553.50 108.00,555.50 112.00,556.50 120.00,557.50 125.00,558.00 125.00,558.20" fill="#b6b6b6" stroke="none"/>
<polyline points="57.50,527.00 59.00,525.00 61.20,525.50 62.80,530.00 65.00,526.00 66.50,524.00 68.00,522.30 70.00,523.00 72.00,519.20 73.50,520.00 75.00,514.60 77.00,508.70 78.50,507.00 80.00,504.50 82.00,496.00 84.00,485.00 85.00,480.00 86.00,477.30 87.00,474.50 88.00,476.00 89.00,474.00 90.00,475.80 91.00,483.50 92.00,490.00 93.00,499.00 95.00,519.00 97.00,536.30 99.00,545.00 100.00,547.00 101.50,548.00 103.00,549.50 105.00,553.50 108.00,555.50 112.00,556.50 120.00,557.50 125.00,558.00" fill="none" stroke="#7c7c7c" stroke-width="1.1" stroke-linejoin="round"/>
<line x1="57.50" y1="470.00" x2="57.50" y2="558.20" stroke="#7c7c7c" stroke-width="1.5"/>
<polyline points="57.80,558.20 57.60,540.20 58.20,556.50 60.00,557.20 70.00,557.00 75.00,556.50 80.00,555.50 85.00,554.00 90.00,552.50 95.00,551.50 100.00,548.70 103.00,544.00 105.00,539.40 107.00,530.00 109.00,514.60 111.00,499.00 113.00,488.00 114.00,482.00 115.00,477.30 116.00,475.00 116.80,476.50 117.50,481.00 119.00,496.00 121.00,514.60 123.00,533.20 126.00,550.30 129.00,557.30 150.00,557.50" fill="none" stroke="#a0153e" stroke-width="1.6" stroke-linejoin="round"/>
<path d="M57.20,470.00 L149.80,470.00 L149.80,558.20" fill="none" stroke="#000" stroke-width="1.3"/>
<line x1="56.60" y1="558.20" x2="150.40" y2="558.20" stroke="#000" stroke-width="1.3"/>
<line x1="55.40" y1="557.70" x2="57.20" y2="557.70" stroke="#333" stroke-width="0.6"/>
<line x1="55.40" y1="553.51" x2="57.20" y2="553.51" stroke="#333" stroke-width="0.6"/>
<line x1="55.40" y1="549.32" x2="57.20" y2="549.32" stroke="#333" stroke-width="0.6"/>
<line x1="55.40" y1="545.13" x2="57.20" y2="545.13" stroke="#333" stroke-width="0.6"/>
<line x1="55.40" y1="540.94" x2="57.20" y2="540.94" stroke="#333" stroke-width="0.6"/>
<line x1="55.40" y1="536.75" x2="57.20" y2="536.75" stroke="#333" stroke-width="0.6"/>
<line x1="55.40" y1="532.56" x2="57.20" y2="532.56" stroke="#333" stroke-width="0.6"/>
<line x1="55.40" y1="528.37" x2="57.20" y2="528.37" stroke="#333" stroke-width="0.6"/>
<line x1="55.40" y1="524.18" x2="57.20" y2="524.18" stroke="#333" stroke-width="0.6"/>
<line x1="55.40" y1="519.99" x2="57.20" y2="519.99" stroke="#333" stroke-width="0.6"/>
<line x1="55.40" y1="515.80" x2="57.20" y2="515.80" stroke="#333" stroke-width="0.6"/>
<line x1="55.40" y1="511.61" x2="57.20" y2="511.61" stroke="#333" stroke-width="0.6"/>
<line x1="55.40" y1="507.42" x2="57.20" y2="507.42" stroke="#333" stroke-width="0.6"/>
<line x1="55.40" y1="503.23" x2="57.20" y2="503.23" stroke="#333" stroke-width="0.6"/>
<line x1="55.40" y1="499.04" x2="57.20" y2="499.04" stroke="#333" stroke-width="0.6"/>
<line x1="55.40" y1="494.85" x2="57.20" y2="494.85" stroke="#333" stroke-width="0.6"/>
<line x1="55.40" y1="490.66" x2="57.20" y2="490.66" stroke="#333" stroke-width="0.6"/>
<line x1="55.40" y1="486.47" x2="57.20" y2="486.47" stroke="#333" stroke-width="0.6"/>
<line x1="55.40" y1="482.28" x2="57.20" y2="482.28" stroke="#333" stroke-width="0.6"/>
<line x1="55.40" y1="478.09" x2="57.20" y2="478.09" stroke="#333" stroke-width="0.6"/>
<line x1="55.40" y1="473.90" x2="57.20" y2="473.90" stroke="#333" stroke-width="0.6"/>
<line x1="53.60" y1="557.60" x2="57.20" y2="557.60" stroke="#000" stroke-width="1.0"/>
<text x="51.60" y="560.40" font-size="8" text-anchor="end" fill="#111" stroke="#111">0</text>
<line x1="53.60" y1="540.84" x2="57.20" y2="540.84" stroke="#000" stroke-width="1.0"/>
<text x="51.60" y="543.64" font-size="8" text-anchor="end" fill="#111" stroke="#111">20</text>
<line x1="53.60" y1="524.08" x2="57.20" y2="524.08" stroke="#000" stroke-width="1.0"/>
<text x="51.60" y="526.88" font-size="8" text-anchor="end" fill="#111" stroke="#111">40</text>
<line x1="53.60" y1="507.32" x2="57.20" y2="507.32" stroke="#000" stroke-width="1.0"/>
<text x="51.60" y="510.12" font-size="8" text-anchor="end" fill="#111" stroke="#111">60</text>
<line x1="53.60" y1="490.56" x2="57.20" y2="490.56" stroke="#000" stroke-width="1.0"/>
<text x="51.60" y="493.36" font-size="8" text-anchor="end" fill="#111" stroke="#111">80</text>
<line x1="53.60" y1="473.80" x2="57.20" y2="473.80" stroke="#000" stroke-width="1.0"/>
<text x="51.60" y="476.60" font-size="8" text-anchor="end" fill="#111" stroke="#111">100</text>
<line x1="84.06" y1="558.20" x2="84.06" y2="560.10" stroke="#000" stroke-width="0.6"/>
<line x1="87.72" y1="558.20" x2="87.72" y2="560.10" stroke="#000" stroke-width="0.6"/>
<line x1="90.32" y1="558.20" x2="90.32" y2="560.10" stroke="#000" stroke-width="0.6"/>
<line x1="92.34" y1="558.20" x2="92.34" y2="560.10" stroke="#000" stroke-width="0.6"/>
<line x1="93.99" y1="558.20" x2="93.99" y2="560.10" stroke="#000" stroke-width="0.6"/>
<line x1="95.38" y1="558.20" x2="95.38" y2="560.10" stroke="#000" stroke-width="0.6"/>
<line x1="96.58" y1="558.20" x2="96.58" y2="560.10" stroke="#000" stroke-width="0.6"/>
<line x1="97.65" y1="558.20" x2="97.65" y2="560.10" stroke="#000" stroke-width="0.6"/>
<line x1="77.80" y1="558.20" x2="77.80" y2="561.40" stroke="#000" stroke-width="0.9"/>
<line x1="104.86" y1="558.20" x2="104.86" y2="560.10" stroke="#000" stroke-width="0.6"/>
<line x1="108.52" y1="558.20" x2="108.52" y2="560.10" stroke="#000" stroke-width="0.6"/>
<line x1="111.12" y1="558.20" x2="111.12" y2="560.10" stroke="#000" stroke-width="0.6"/>
<line x1="113.14" y1="558.20" x2="113.14" y2="560.10" stroke="#000" stroke-width="0.6"/>
<line x1="114.79" y1="558.20" x2="114.79" y2="560.10" stroke="#000" stroke-width="0.6"/>
<line x1="116.18" y1="558.20" x2="116.18" y2="560.10" stroke="#000" stroke-width="0.6"/>
<line x1="117.38" y1="558.20" x2="117.38" y2="560.10" stroke="#000" stroke-width="0.6"/>
<line x1="118.45" y1="558.20" x2="118.45" y2="560.10" stroke="#000" stroke-width="0.6"/>
<line x1="98.60" y1="558.20" x2="98.60" y2="561.40" stroke="#000" stroke-width="0.9"/>
<line x1="125.66" y1="558.20" x2="125.66" y2="560.10" stroke="#000" stroke-width="0.6"/>
<line x1="129.32" y1="558.20" x2="129.32" y2="560.10" stroke="#000" stroke-width="0.6"/>
<line x1="131.92" y1="558.20" x2="131.92" y2="560.10" stroke="#000" stroke-width="0.6"/>
<line x1="133.94" y1="558.20" x2="133.94" y2="560.10" stroke="#000" stroke-width="0.6"/>
<line x1="135.59" y1="558.20" x2="135.59" y2="560.10" stroke="#000" stroke-width="0.6"/>
<line x1="136.98" y1="558.20" x2="136.98" y2="560.10" stroke="#000" stroke-width="0.6"/>
<line x1="138.18" y1="558.20" x2="138.18" y2="560.10" stroke="#000" stroke-width="0.6"/>
<line x1="139.25" y1="558.20" x2="139.25" y2="560.10" stroke="#000" stroke-width="0.6"/>
<line x1="119.40" y1="558.20" x2="119.40" y2="561.40" stroke="#000" stroke-width="0.9"/>
<line x1="146.66" y1="558.20" x2="146.66" y2="560.10" stroke="#000" stroke-width="0.6"/>
<line x1="140.40" y1="558.20" x2="140.40" y2="561.40" stroke="#000" stroke-width="0.9"/>
<line x1="59.70" y1="558.20" x2="59.70" y2="560.60" stroke="#000" stroke-width="0.7"/>
<line x1="62.20" y1="558.20" x2="62.20" y2="560.60" stroke="#000" stroke-width="0.7"/>
<line x1="64.20" y1="558.20" x2="64.20" y2="560.60" stroke="#000" stroke-width="0.7"/>
<line x1="66.50" y1="558.20" x2="66.50" y2="560.60" stroke="#000" stroke-width="0.7"/>
<line x1="68.70" y1="558.20" x2="68.70" y2="560.60" stroke="#000" stroke-width="0.7"/>
<line x1="71.20" y1="558.20" x2="71.20" y2="560.60" stroke="#000" stroke-width="0.7"/>
<line x1="73.20" y1="558.20" x2="73.20" y2="560.60" stroke="#000" stroke-width="0.7"/>
<text x="66.50" y="573.20" font-size="7.9" text-anchor="middle" fill="#111" stroke="#111">0</text>
<text x="77.40" y="573.20" font-size="7.9" text-anchor="middle" fill="#111" stroke="#111">10<tspan font-size="5.37" dy="-3.32">2</tspan></text>
<text x="98.20" y="573.20" font-size="7.9" text-anchor="middle" fill="#111" stroke="#111">10<tspan font-size="5.37" dy="-3.32">3</tspan></text>
<text x="119.00" y="573.20" font-size="7.9" text-anchor="middle" fill="#111" stroke="#111">10<tspan font-size="5.37" dy="-3.32">4</tspan></text>
<text x="140.00" y="573.20" font-size="7.9" text-anchor="middle" fill="#111" stroke="#111">10<tspan font-size="5.37" dy="-3.32">5</tspan></text>
<text x="103.40" y="465.00" font-size="10.3" text-anchor="middle" font-weight="bold" fill="#000" stroke="#000">Human platelets</text>
<polygon points="178.00,558.20 178.00,552.00 178.30,552.00 180.00,551.90 182.00,549.50 185.00,547.20 187.00,551.90 190.00,548.00 192.00,544.00 194.00,546.40 197.00,537.90 199.00,536.30 201.00,527.00 203.00,508.40 205.00,489.70 207.00,494.40 209.00,480.40 211.00,482.00 213.00,475.00 215.00,480.00 216.00,486.60 218.00,500.60 219.50,492.00 221.00,484.30 223.00,499.00 225.00,490.50 227.00,499.00 228.00,517.70 230.00,506.00 232.00,513.00 234.00,527.00 235.00,526.20 237.00,539.40 240.00,548.70 243.00,555.00 246.00,557.50 246.00,558.20" fill="#b6b6b6" stroke="none"/>
<polyline points="178.30,552.00 180.00,551.90 182.00,549.50 185.00,547.20 187.00,551.90 190.00,548.00 192.00,544.00 194.00,546.40 197.00,537.90 199.00,536.30 201.00,527.00 203.00,508.40 205.00,489.70 207.00,494.40 209.00,480.40 211.00,482.00 213.00,475.00 215.00,480.00 216.00,486.60 218.00,500.60 219.50,492.00 221.00,484.30 223.00,499.00 225.00,490.50 227.00,499.00 228.00,517.70 230.00,506.00 232.00,513.00 234.00,527.00 235.00,526.20 237.00,539.40 240.00,548.70 243.00,555.00 246.00,557.50" fill="none" stroke="#7c7c7c" stroke-width="1.1" stroke-linejoin="round"/>
<line x1="177.70" y1="470.00" x2="177.70" y2="558.20" stroke="#7c7c7c" stroke-width="1.5"/>
<polyline points="178.00,558.20 178.00,533.20 178.60,557.00 180.00,557.50 195.00,557.00 200.00,555.50 205.00,553.50 210.00,551.00 215.00,548.00 218.00,546.00 220.00,544.50 221.00,538.00 222.00,530.00 223.00,521.50 225.00,522.30 226.00,508.40 227.00,499.00 228.00,497.50 229.00,499.80 231.00,490.50 233.00,488.20 234.00,482.80 235.00,476.50 236.00,480.40 237.00,483.50 238.00,492.80 239.00,503.70 241.00,520.80 243.00,539.40 245.00,552.60 247.00,557.30 250.00,556.00 253.00,555.30 256.00,556.50 259.00,555.00 262.00,556.00 265.00,555.00 268.00,556.50 269.60,557.00" fill="none" stroke="#a0153e" stroke-width="1.6" stroke-linejoin="round"/>
<path d="M177.40,470.00 L270.00,470.00 L270.00,558.20" fill="none" stroke="#000" stroke-width="1.3"/>
<line x1="176.80" y1="558.20" x2="270.60" y2="558.20" stroke="#000" stroke-width="1.3"/>
<line x1="175.60" y1="557.70" x2="177.40" y2="557.70" stroke="#333" stroke-width="0.6"/>
<line x1="175.60" y1="553.51" x2="177.40" y2="553.51" stroke="#333" stroke-width="0.6"/>
<line x1="175.60" y1="549.32" x2="177.40" y2="549.32" stroke="#333" stroke-width="0.6"/>
<line x1="175.60" y1="545.13" x2="177.40" y2="545.13" stroke="#333" stroke-width="0.6"/>
<line x1="175.60" y1="540.94" x2="177.40" y2="540.94" stroke="#333" stroke-width="0.6"/>
<line x1="175.60" y1="536.75" x2="177.40" y2="536.75" stroke="#333" stroke-width="0.6"/>
<line x1="175.60" y1="532.56" x2="177.40" y2="532.56" stroke="#333" stroke-width="0.6"/>
<line x1="175.60" y1="528.37" x2="177.40" y2="528.37" stroke="#333" stroke-width="0.6"/>
<line x1="175.60" y1="524.18" x2="177.40" y2="524.18" stroke="#333" stroke-width="0.6"/>
<line x1="175.60" y1="519.99" x2="177.40" y2="519.99" stroke="#333" stroke-width="0.6"/>
<line x1="175.60" y1="515.80" x2="177.40" y2="515.80" stroke="#333" stroke-width="0.6"/>
<line x1="175.60" y1="511.61" x2="177.40" y2="511.61" stroke="#333" stroke-width="0.6"/>
<line x1="175.60" y1="507.42" x2="177.40" y2="507.42" stroke="#333" stroke-width="0.6"/>
<line x1="175.60" y1="503.23" x2="177.40" y2="503.23" stroke="#333" stroke-width="0.6"/>
<line x1="175.60" y1="499.04" x2="177.40" y2="499.04" stroke="#333" stroke-width="0.6"/>
<line x1="175.60" y1="494.85" x2="177.40" y2="494.85" stroke="#333" stroke-width="0.6"/>
<line x1="175.60" y1="490.66" x2="177.40" y2="490.66" stroke="#333" stroke-width="0.6"/>
<line x1="175.60" y1="486.47" x2="177.40" y2="486.47" stroke="#333" stroke-width="0.6"/>
<line x1="175.60" y1="482.28" x2="177.40" y2="482.28" stroke="#333" stroke-width="0.6"/>
<line x1="175.60" y1="478.09" x2="177.40" y2="478.09" stroke="#333" stroke-width="0.6"/>
<line x1="175.60" y1="473.90" x2="177.40" y2="473.90" stroke="#333" stroke-width="0.6"/>
<line x1="173.80" y1="557.60" x2="177.40" y2="557.60" stroke="#000" stroke-width="1.0"/>
<text x="171.80" y="560.40" font-size="8" text-anchor="end" fill="#111" stroke="#111">0</text>
<line x1="173.80" y1="540.84" x2="177.40" y2="540.84" stroke="#000" stroke-width="1.0"/>
<text x="171.80" y="543.64" font-size="8" text-anchor="end" fill="#111" stroke="#111">20</text>
<line x1="173.80" y1="524.08" x2="177.40" y2="524.08" stroke="#000" stroke-width="1.0"/>
<text x="171.80" y="526.88" font-size="8" text-anchor="end" fill="#111" stroke="#111">40</text>
<line x1="173.80" y1="507.32" x2="177.40" y2="507.32" stroke="#000" stroke-width="1.0"/>
<text x="171.80" y="510.12" font-size="8" text-anchor="end" fill="#111" stroke="#111">60</text>
<line x1="173.80" y1="490.56" x2="177.40" y2="490.56" stroke="#000" stroke-width="1.0"/>
<text x="171.80" y="493.36" font-size="8" text-anchor="end" fill="#111" stroke="#111">80</text>
<line x1="173.80" y1="473.80" x2="177.40" y2="473.80" stroke="#000" stroke-width="1.0"/>
<text x="171.80" y="476.60" font-size="8" text-anchor="end" fill="#111" stroke="#111">100</text>
<line x1="204.26" y1="558.20" x2="204.26" y2="560.10" stroke="#000" stroke-width="0.6"/>
<line x1="207.92" y1="558.20" x2="207.92" y2="560.10" stroke="#000" stroke-width="0.6"/>
<line x1="210.52" y1="558.20" x2="210.52" y2="560.10" stroke="#000" stroke-width="0.6"/>
<line x1="212.54" y1="558.20" x2="212.54" y2="560.10" stroke="#000" stroke-width="0.6"/>
<line x1="214.19" y1="558.20" x2="214.19" y2="560.10" stroke="#000" stroke-width="0.6"/>
<line x1="215.58" y1="558.20" x2="215.58" y2="560.10" stroke="#000" stroke-width="0.6"/>
<line x1="216.78" y1="558.20" x2="216.78" y2="560.10" stroke="#000" stroke-width="0.6"/>
<line x1="217.85" y1="558.20" x2="217.85" y2="560.10" stroke="#000" stroke-width="0.6"/>
<line x1="198.00" y1="558.20" x2="198.00" y2="561.40" stroke="#000" stroke-width="0.9"/>
<line x1="225.06" y1="558.20" x2="225.06" y2="560.10" stroke="#000" stroke-width="0.6"/>
<line x1="228.72" y1="558.20" x2="228.72" y2="560.10" stroke="#000" stroke-width="0.6"/>
<line x1="231.32" y1="558.20" x2="231.32" y2="560.10" stroke="#000" stroke-width="0.6"/>
<line x1="233.34" y1="558.20" x2="233.34" y2="560.10" stroke="#000" stroke-width="0.6"/>
<line x1="234.99" y1="558.20" x2="234.99" y2="560.10" stroke="#000" stroke-width="0.6"/>
<line x1="236.38" y1="558.20" x2="236.38" y2="560.10" stroke="#000" stroke-width="0.6"/>
<line x1="237.58" y1="558.20" x2="237.58" y2="560.10" stroke="#000" stroke-width="0.6"/>
<line x1="238.65" y1="558.20" x2="238.65" y2="560.10" stroke="#000" stroke-width="0.6"/>
<line x1="218.80" y1="558.20" x2="218.80" y2="561.40" stroke="#000" stroke-width="0.9"/>
<line x1="245.86" y1="558.20" x2="245.86" y2="560.10" stroke="#000" stroke-width="0.6"/>
<line x1="249.52" y1="558.20" x2="249.52" y2="560.10" stroke="#000" stroke-width="0.6"/>
<line x1="252.12" y1="558.20" x2="252.12" y2="560.10" stroke="#000" stroke-width="0.6"/>
<line x1="254.14" y1="558.20" x2="254.14" y2="560.10" stroke="#000" stroke-width="0.6"/>
<line x1="255.79" y1="558.20" x2="255.79" y2="560.10" stroke="#000" stroke-width="0.6"/>
<line x1="257.18" y1="558.20" x2="257.18" y2="560.10" stroke="#000" stroke-width="0.6"/>
<line x1="258.38" y1="558.20" x2="258.38" y2="560.10" stroke="#000" stroke-width="0.6"/>
<line x1="259.45" y1="558.20" x2="259.45" y2="560.10" stroke="#000" stroke-width="0.6"/>
<line x1="239.60" y1="558.20" x2="239.60" y2="561.40" stroke="#000" stroke-width="0.9"/>
<line x1="266.86" y1="558.20" x2="266.86" y2="560.10" stroke="#000" stroke-width="0.6"/>
<line x1="260.60" y1="558.20" x2="260.60" y2="561.40" stroke="#000" stroke-width="0.9"/>
<line x1="179.90" y1="558.20" x2="179.90" y2="560.60" stroke="#000" stroke-width="0.7"/>
<line x1="182.40" y1="558.20" x2="182.40" y2="560.60" stroke="#000" stroke-width="0.7"/>
<line x1="184.40" y1="558.20" x2="184.40" y2="560.60" stroke="#000" stroke-width="0.7"/>
<line x1="186.70" y1="558.20" x2="186.70" y2="560.60" stroke="#000" stroke-width="0.7"/>
<line x1="188.90" y1="558.20" x2="188.90" y2="560.60" stroke="#000" stroke-width="0.7"/>
<line x1="191.40" y1="558.20" x2="191.40" y2="560.60" stroke="#000" stroke-width="0.7"/>
<line x1="193.40" y1="558.20" x2="193.40" y2="560.60" stroke="#000" stroke-width="0.7"/>
<text x="186.70" y="573.20" font-size="7.9" text-anchor="middle" fill="#111" stroke="#111">0</text>
<text x="197.60" y="573.20" font-size="7.9" text-anchor="middle" fill="#111" stroke="#111">10<tspan font-size="5.37" dy="-3.32">2</tspan></text>
<text x="218.40" y="573.20" font-size="7.9" text-anchor="middle" fill="#111" stroke="#111">10<tspan font-size="5.37" dy="-3.32">3</tspan></text>
<text x="239.20" y="573.20" font-size="7.9" text-anchor="middle" fill="#111" stroke="#111">10<tspan font-size="5.37" dy="-3.32">4</tspan></text>
<text x="260.20" y="573.20" font-size="7.9" text-anchor="middle" fill="#111" stroke="#111">10<tspan font-size="5.37" dy="-3.32">5</tspan></text>
<text x="222.00" y="464.60" font-size="10.3" text-anchor="middle" font-weight="bold" fill="#000" stroke="#000">CD42b<tspan font-size="6.5" dy="-4">+</tspan></text>
<polygon points="298.00,558.20 298.00,548.50 298.50,548.50 302.00,549.50 305.00,549.00 307.00,546.00 309.00,548.00 313.00,546.60 315.00,545.00 316.50,540.50 318.00,541.20 320.00,537.30 322.00,532.70 324.00,529.60 326.00,522.60 328.00,514.00 330.00,504.00 332.00,492.30 334.00,483.00 336.00,476.80 338.00,480.60 339.00,484.50 340.50,490.70 342.00,504.70 343.50,518.70 345.00,531.10 347.00,542.00 349.00,549.70 352.00,555.20 356.00,556.70 360.00,558.00 360.00,558.20" fill="#b6b6b6" stroke="none"/>
<polyline points="298.50,548.50 302.00,549.50 305.00,549.00 307.00,546.00 309.00,548.00 313.00,546.60 315.00,545.00 316.50,540.50 318.00,541.20 320.00,537.30 322.00,532.70 324.00,529.60 326.00,522.60 328.00,514.00 330.00,504.00 332.00,492.30 334.00,483.00 336.00,476.80 338.00,480.60 339.00,484.50 340.50,490.70 342.00,504.70 343.50,518.70 345.00,531.10 347.00,542.00 349.00,549.70 352.00,555.20 356.00,556.70 360.00,558.00" fill="none" stroke="#7c7c7c" stroke-width="1.1" stroke-linejoin="round"/>
<line x1="297.70" y1="470.00" x2="297.70" y2="558.20" stroke="#7c7c7c" stroke-width="1.5"/>
<polyline points="298.00,558.20 298.00,471.00 298.60,547.20 302.00,548.70 305.00,548.00 307.00,544.90 309.00,547.20 313.00,545.60 315.00,544.00 316.50,539.40 318.00,540.20 320.00,536.30 322.00,531.70 324.00,528.60 326.00,521.60 328.00,513.00 330.00,503.00 331.00,492.80 333.00,482.00 335.00,476.50 336.20,475.00 337.50,478.90 339.00,483.50 340.50,489.70 342.00,503.70 343.50,517.70 345.00,530.10 347.00,541.00 349.00,548.70 352.00,554.20 356.00,555.70 360.00,557.30 366.00,557.80 389.50,557.80" fill="none" stroke="#a0153e" stroke-width="1.6" stroke-linejoin="round"/>
<path d="M297.40,470.00 L390.00,470.00 L390.00,558.20" fill="none" stroke="#000" stroke-width="1.3"/>
<line x1="296.80" y1="558.20" x2="390.60" y2="558.20" stroke="#000" stroke-width="1.3"/>
<line x1="297.70" y1="470.00" x2="297.70" y2="558.20" stroke="#a0153e" stroke-width="1.5"/>
<line x1="295.60" y1="557.70" x2="297.40" y2="557.70" stroke="#333" stroke-width="0.6"/>
<line x1="295.60" y1="553.51" x2="297.40" y2="553.51" stroke="#333" stroke-width="0.6"/>
<line x1="295.60" y1="549.32" x2="297.40" y2="549.32" stroke="#333" stroke-width="0.6"/>
<line x1="295.60" y1="545.13" x2="297.40" y2="545.13" stroke="#333" stroke-width="0.6"/>
<line x1="295.60" y1="540.94" x2="297.40" y2="540.94" stroke="#333" stroke-width="0.6"/>
<line x1="295.60" y1="536.75" x2="297.40" y2="536.75" stroke="#333" stroke-width="0.6"/>
<line x1="295.60" y1="532.56" x2="297.40" y2="532.56" stroke="#333" stroke-width="0.6"/>
<line x1="295.60" y1="528.37" x2="297.40" y2="528.37" stroke="#333" stroke-width="0.6"/>
<line x1="295.60" y1="524.18" x2="297.40" y2="524.18" stroke="#333" stroke-width="0.6"/>
<line x1="295.60" y1="519.99" x2="297.40" y2="519.99" stroke="#333" stroke-width="0.6"/>
<line x1="295.60" y1="515.80" x2="297.40" y2="515.80" stroke="#333" stroke-width="0.6"/>
<line x1="295.60" y1="511.61" x2="297.40" y2="511.61" stroke="#333" stroke-width="0.6"/>
<line x1="295.60" y1="507.42" x2="297.40" y2="507.42" stroke="#333" stroke-width="0.6"/>
<line x1="295.60" y1="503.23" x2="297.40" y2="503.23" stroke="#333" stroke-width="0.6"/>
<line x1="295.60" y1="499.04" x2="297.40" y2="499.04" stroke="#333" stroke-width="0.6"/>
<line x1="295.60" y1="494.85" x2="297.40" y2="494.85" stroke="#333" stroke-width="0.6"/>
<line x1="295.60" y1="490.66" x2="297.40" y2="490.66" stroke="#333" stroke-width="0.6"/>
<line x1="295.60" y1="486.47" x2="297.40" y2="486.47" stroke="#333" stroke-width="0.6"/>
<line x1="295.60" y1="482.28" x2="297.40" y2="482.28" stroke="#333" stroke-width="0.6"/>
<line x1="295.60" y1="478.09" x2="297.40" y2="478.09" stroke="#333" stroke-width="0.6"/>
<line x1="295.60" y1="473.90" x2="297.40" y2="473.90" stroke="#333" stroke-width="0.6"/>
<line x1="293.80" y1="557.60" x2="297.40" y2="557.60" stroke="#000" stroke-width="1.0"/>
<text x="291.80" y="560.40" font-size="8" text-anchor="end" fill="#111" stroke="#111">0</text>
<line x1="293.80" y1="540.84" x2="297.40" y2="540.84" stroke="#000" stroke-width="1.0"/>
<text x="291.80" y="543.64" font-size="8" text-anchor="end" fill="#111" stroke="#111">20</text>
<line x1="293.80" y1="524.08" x2="297.40" y2="524.08" stroke="#000" stroke-width="1.0"/>
<text x="291.80" y="526.88" font-size="8" text-anchor="end" fill="#111" stroke="#111">40</text>
<line x1="293.80" y1="507.32" x2="297.40" y2="507.32" stroke="#000" stroke-width="1.0"/>
<text x="291.80" y="510.12" font-size="8" text-anchor="end" fill="#111" stroke="#111">60</text>
<line x1="293.80" y1="490.56" x2="297.40" y2="490.56" stroke="#000" stroke-width="1.0"/>
<text x="291.80" y="493.36" font-size="8" text-anchor="end" fill="#111" stroke="#111">80</text>
<line x1="293.80" y1="473.80" x2="297.40" y2="473.80" stroke="#000" stroke-width="1.0"/>
<text x="291.80" y="476.60" font-size="8" text-anchor="end" fill="#111" stroke="#111">100</text>
<line x1="324.26" y1="558.20" x2="324.26" y2="560.10" stroke="#000" stroke-width="0.6"/>
<line x1="327.92" y1="558.20" x2="327.92" y2="560.10" stroke="#000" stroke-width="0.6"/>
<line x1="330.52" y1="558.20" x2="330.52" y2="560.10" stroke="#000" stroke-width="0.6"/>
<line x1="332.54" y1="558.20" x2="332.54" y2="560.10" stroke="#000" stroke-width="0.6"/>
<line x1="334.19" y1="558.20" x2="334.19" y2="560.10" stroke="#000" stroke-width="0.6"/>
<line x1="335.58" y1="558.20" x2="335.58" y2="560.10" stroke="#000" stroke-width="0.6"/>
<line x1="336.78" y1="558.20" x2="336.78" y2="560.10" stroke="#000" stroke-width="0.6"/>
<line x1="337.85" y1="558.20" x2="337.85" y2="560.10" stroke="#000" stroke-width="0.6"/>
<line x1="318.00" y1="558.20" x2="318.00" y2="561.40" stroke="#000" stroke-width="0.9"/>
<line x1="345.06" y1="558.20" x2="345.06" y2="560.10" stroke="#000" stroke-width="0.6"/>
<line x1="348.72" y1="558.20" x2="348.72" y2="560.10" stroke="#000" stroke-width="0.6"/>
<line x1="351.32" y1="558.20" x2="351.32" y2="560.10" stroke="#000" stroke-width="0.6"/>
<line x1="353.34" y1="558.20" x2="353.34" y2="560.10" stroke="#000" stroke-width="0.6"/>
<line x1="354.99" y1="558.20" x2="354.99" y2="560.10" stroke="#000" stroke-width="0.6"/>
<line x1="356.38" y1="558.20" x2="356.38" y2="560.10" stroke="#000" stroke-width="0.6"/>
<line x1="357.58" y1="558.20" x2="357.58" y2="560.10" stroke="#000" stroke-width="0.6"/>
<line x1="358.65" y1="558.20" x2="358.65" y2="560.10" stroke="#000" stroke-width="0.6"/>
<line x1="338.80" y1="558.20" x2="338.80" y2="561.40" stroke="#000" stroke-width="0.9"/>
<line x1="365.86" y1="558.20" x2="365.86" y2="560.10" stroke="#000" stroke-width="0.6"/>
<line x1="369.52" y1="558.20" x2="369.52" y2="560.10" stroke="#000" stroke-width="0.6"/>
<line x1="372.12" y1="558.20" x2="372.12" y2="560.10" stroke="#000" stroke-width="0.6"/>
<line x1="374.14" y1="558.20" x2="374.14" y2="560.10" stroke="#000" stroke-width="0.6"/>
<line x1="375.79" y1="558.20" x2="375.79" y2="560.10" stroke="#000" stroke-width="0.6"/>
<line x1="377.18" y1="558.20" x2="377.18" y2="560.10" stroke="#000" stroke-width="0.6"/>
<line x1="378.38" y1="558.20" x2="378.38" y2="560.10" stroke="#000" stroke-width="0.6"/>
<line x1="379.45" y1="558.20" x2="379.45" y2="560.10" stroke="#000" stroke-width="0.6"/>
<line x1="359.60" y1="558.20" x2="359.60" y2="561.40" stroke="#000" stroke-width="0.9"/>
<line x1="386.86" y1="558.20" x2="386.86" y2="560.10" stroke="#000" stroke-width="0.6"/>
<line x1="380.60" y1="558.20" x2="380.60" y2="561.40" stroke="#000" stroke-width="0.9"/>
<line x1="299.90" y1="558.20" x2="299.90" y2="560.60" stroke="#000" stroke-width="0.7"/>
<line x1="302.40" y1="558.20" x2="302.40" y2="560.60" stroke="#000" stroke-width="0.7"/>
<line x1="304.40" y1="558.20" x2="304.40" y2="560.60" stroke="#000" stroke-width="0.7"/>
<line x1="306.70" y1="558.20" x2="306.70" y2="560.60" stroke="#000" stroke-width="0.7"/>
<line x1="308.90" y1="558.20" x2="308.90" y2="560.60" stroke="#000" stroke-width="0.7"/>
<line x1="311.40" y1="558.20" x2="311.40" y2="560.60" stroke="#000" stroke-width="0.7"/>
<line x1="313.40" y1="558.20" x2="313.40" y2="560.60" stroke="#000" stroke-width="0.7"/>
<text x="306.70" y="573.20" font-size="7.9" text-anchor="middle" fill="#111" stroke="#111">0</text>
<text x="317.60" y="573.20" font-size="7.9" text-anchor="middle" fill="#111" stroke="#111">10<tspan font-size="5.37" dy="-3.32">2</tspan></text>
<text x="338.40" y="573.20" font-size="7.9" text-anchor="middle" fill="#111" stroke="#111">10<tspan font-size="5.37" dy="-3.32">3</tspan></text>
<text x="359.20" y="573.20" font-size="7.9" text-anchor="middle" fill="#111" stroke="#111">10<tspan font-size="5.37" dy="-3.32">4</tspan></text>
<text x="380.20" y="573.20" font-size="7.9" text-anchor="middle" fill="#111" stroke="#111">10<tspan font-size="5.37" dy="-3.32">5</tspan></text>
<text x="343.40" y="465.00" font-size="10.3" text-anchor="middle" font-weight="bold" fill="#000" stroke="#000">CD42b<tspan font-size="6.5" dy="-4">-</tspan><tspan dy="4"> FV</tspan><tspan font-size="6.8" dy="-4">high</tspan></text>
<polygon points="418.00,558.20 418.00,554.00 418.50,554.00 425.00,554.40 431.00,554.40 434.00,551.30 437.00,549.00 440.00,545.90 442.00,542.00 444.00,539.70 446.00,531.10 448.00,521.80 450.00,514.00 452.00,507.80 454.00,500.00 456.00,490.70 458.00,479.00 459.00,474.50 460.00,478.00 461.00,474.80 462.00,480.00 463.00,487.60 465.00,504.70 467.00,520.20 469.00,535.80 471.00,546.60 473.00,551.30 476.00,555.20 480.00,557.50 485.00,558.00 485.00,558.20" fill="#b6b6b6" stroke="none"/>
<polyline points="418.50,554.00 425.00,554.40 431.00,554.40 434.00,551.30 437.00,549.00 440.00,545.90 442.00,542.00 444.00,539.70 446.00,531.10 448.00,521.80 450.00,514.00 452.00,507.80 454.00,500.00 456.00,490.70 458.00,479.00 459.00,474.50 460.00,478.00 461.00,474.80 462.00,480.00 463.00,487.60 465.00,504.70 467.00,520.20 469.00,535.80 471.00,546.60 473.00,551.30 476.00,555.20 480.00,557.50 485.00,558.00" fill="none" stroke="#7c7c7c" stroke-width="1.1" stroke-linejoin="round"/>
<line x1="417.70" y1="470.00" x2="417.70" y2="558.20" stroke="#7c7c7c" stroke-width="1.5"/>
<polyline points="418.00,558.20 418.00,471.00 418.60,552.60 425.00,553.40 431.00,553.40 434.00,550.30 437.00,548.00 440.00,544.90 442.00,541.00 444.00,538.70 446.00,530.10 448.00,520.80 450.00,513.00 452.00,506.80 454.00,499.00 456.00,489.70 458.00,481.20 459.00,479.60 460.00,482.00 461.00,476.50 462.00,478.00 463.00,486.60 465.00,503.70 467.00,519.20 469.00,534.80 471.00,545.60 473.00,550.30 476.00,554.20 480.00,556.50 485.00,557.50 509.60,557.80" fill="none" stroke="#a0153e" stroke-width="1.6" stroke-linejoin="round"/>
<path d="M417.40,470.00 L510.00,470.00 L510.00,558.20" fill="none" stroke="#000" stroke-width="1.3"/>
<line x1="416.80" y1="558.20" x2="510.60" y2="558.20" stroke="#000" stroke-width="1.3"/>
<line x1="417.70" y1="470.00" x2="417.70" y2="558.20" stroke="#a0153e" stroke-width="1.5"/>
<line x1="415.60" y1="557.70" x2="417.40" y2="557.70" stroke="#333" stroke-width="0.6"/>
<line x1="415.60" y1="553.51" x2="417.40" y2="553.51" stroke="#333" stroke-width="0.6"/>
<line x1="415.60" y1="549.32" x2="417.40" y2="549.32" stroke="#333" stroke-width="0.6"/>
<line x1="415.60" y1="545.13" x2="417.40" y2="545.13" stroke="#333" stroke-width="0.6"/>
<line x1="415.60" y1="540.94" x2="417.40" y2="540.94" stroke="#333" stroke-width="0.6"/>
<line x1="415.60" y1="536.75" x2="417.40" y2="536.75" stroke="#333" stroke-width="0.6"/>
<line x1="415.60" y1="532.56" x2="417.40" y2="532.56" stroke="#333" stroke-width="0.6"/>
<line x1="415.60" y1="528.37" x2="417.40" y2="528.37" stroke="#333" stroke-width="0.6"/>
<line x1="415.60" y1="524.18" x2="417.40" y2="524.18" stroke="#333" stroke-width="0.6"/>
<line x1="415.60" y1="519.99" x2="417.40" y2="519.99" stroke="#333" stroke-width="0.6"/>
<line x1="415.60" y1="515.80" x2="417.40" y2="515.80" stroke="#333" stroke-width="0.6"/>
<line x1="415.60" y1="511.61" x2="417.40" y2="511.61" stroke="#333" stroke-width="0.6"/>
<line x1="415.60" y1="507.42" x2="417.40" y2="507.42" stroke="#333" stroke-width="0.6"/>
<line x1="415.60" y1="503.23" x2="417.40" y2="503.23" stroke="#333" stroke-width="0.6"/>
<line x1="415.60" y1="499.04" x2="417.40" y2="499.04" stroke="#333" stroke-width="0.6"/>
<line x1="415.60" y1="494.85" x2="417.40" y2="494.85" stroke="#333" stroke-width="0.6"/>
<line x1="415.60" y1="490.66" x2="417.40" y2="490.66" stroke="#333" stroke-width="0.6"/>
<line x1="415.60" y1="486.47" x2="417.40" y2="486.47" stroke="#333" stroke-width="0.6"/>
<line x1="415.60" y1="482.28" x2="417.40" y2="482.28" stroke="#333" stroke-width="0.6"/>
<line x1="415.60" y1="478.09" x2="417.40" y2="478.09" stroke="#333" stroke-width="0.6"/>
<line x1="415.60" y1="473.90" x2="417.40" y2="473.90" stroke="#333" stroke-width="0.6"/>
<line x1="413.80" y1="557.60" x2="417.40" y2="557.60" stroke="#000" stroke-width="1.0"/>
<text x="411.80" y="560.40" font-size="8" text-anchor="end" fill="#111" stroke="#111">0</text>
<line x1="413.80" y1="540.84" x2="417.40" y2="540.84" stroke="#000" stroke-width="1.0"/>
<text x="411.80" y="543.64" font-size="8" text-anchor="end" fill="#111" stroke="#111">20</text>
<line x1="413.80" y1="524.08" x2="417.40" y2="524.08" stroke="#000" stroke-width="1.0"/>
<text x="411.80" y="526.88" font-size="8" text-anchor="end" fill="#111" stroke="#111">40</text>
<line x1="413.80" y1="507.32" x2="417.40" y2="507.32" stroke="#000" stroke-width="1.0"/>
<text x="411.80" y="510.12" font-size="8" text-anchor="end" fill="#111" stroke="#111">60</text>
<line x1="413.80" y1="490.56" x2="417.40" y2="490.56" stroke="#000" stroke-width="1.0"/>
<text x="411.80" y="493.36" font-size="8" text-anchor="end" fill="#111" stroke="#111">80</text>
<line x1="413.80" y1="473.80" x2="417.40" y2="473.80" stroke="#000" stroke-width="1.0"/>
<text x="411.80" y="476.60" font-size="8" text-anchor="end" fill="#111" stroke="#111">100</text>
<line x1="444.26" y1="558.20" x2="444.26" y2="560.10" stroke="#000" stroke-width="0.6"/>
<line x1="447.92" y1="558.20" x2="447.92" y2="560.10" stroke="#000" stroke-width="0.6"/>
<line x1="450.52" y1="558.20" x2="450.52" y2="560.10" stroke="#000" stroke-width="0.6"/>
<line x1="452.54" y1="558.20" x2="452.54" y2="560.10" stroke="#000" stroke-width="0.6"/>
<line x1="454.19" y1="558.20" x2="454.19" y2="560.10" stroke="#000" stroke-width="0.6"/>
<line x1="455.58" y1="558.20" x2="455.58" y2="560.10" stroke="#000" stroke-width="0.6"/>
<line x1="456.78" y1="558.20" x2="456.78" y2="560.10" stroke="#000" stroke-width="0.6"/>
<line x1="457.85" y1="558.20" x2="457.85" y2="560.10" stroke="#000" stroke-width="0.6"/>
<line x1="438.00" y1="558.20" x2="438.00" y2="561.40" stroke="#000" stroke-width="0.9"/>
<line x1="465.06" y1="558.20" x2="465.06" y2="560.10" stroke="#000" stroke-width="0.6"/>
<line x1="468.72" y1="558.20" x2="468.72" y2="560.10" stroke="#000" stroke-width="0.6"/>
<line x1="471.32" y1="558.20" x2="471.32" y2="560.10" stroke="#000" stroke-width="0.6"/>
<line x1="473.34" y1="558.20" x2="473.34" y2="560.10" stroke="#000" stroke-width="0.6"/>
<line x1="474.99" y1="558.20" x2="474.99" y2="560.10" stroke="#000" stroke-width="0.6"/>
<line x1="476.38" y1="558.20" x2="476.38" y2="560.10" stroke="#000" stroke-width="0.6"/>
<line x1="477.58" y1="558.20" x2="477.58" y2="560.10" stroke="#000" stroke-width="0.6"/>
<line x1="478.65" y1="558.20" x2="478.65" y2="560.10" stroke="#000" stroke-width="0.6"/>
<line x1="458.80" y1="558.20" x2="458.80" y2="561.40" stroke="#000" stroke-width="0.9"/>
<line x1="485.86" y1="558.20" x2="485.86" y2="560.10" stroke="#000" stroke-width="0.6"/>
<line x1="489.52" y1="558.20" x2="489.52" y2="560.10" stroke="#000" stroke-width="0.6"/>
<line x1="492.12" y1="558.20" x2="492.12" y2="560.10" stroke="#000" stroke-width="0.6"/>
<line x1="494.14" y1="558.20" x2="494.14" y2="560.10" stroke="#000" stroke-width="0.6"/>
<line x1="495.79" y1="558.20" x2="495.79" y2="560.10" stroke="#000" stroke-width="0.6"/>
<line x1="497.18" y1="558.20" x2="497.18" y2="560.10" stroke="#000" stroke-width="0.6"/>
<line x1="498.38" y1="558.20" x2="498.38" y2="560.10" stroke="#000" stroke-width="0.6"/>
<line x1="499.45" y1="558.20" x2="499.45" y2="560.10" stroke="#000" stroke-width="0.6"/>
<line x1="479.60" y1="558.20" x2="479.60" y2="561.40" stroke="#000" stroke-width="0.9"/>
<line x1="506.86" y1="558.20" x2="506.86" y2="560.10" stroke="#000" stroke-width="0.6"/>
<line x1="500.60" y1="558.20" x2="500.60" y2="561.40" stroke="#000" stroke-width="0.9"/>
<line x1="419.90" y1="558.20" x2="419.90" y2="560.60" stroke="#000" stroke-width="0.7"/>
<line x1="422.40" y1="558.20" x2="422.40" y2="560.60" stroke="#000" stroke-width="0.7"/>
<line x1="424.40" y1="558.20" x2="424.40" y2="560.60" stroke="#000" stroke-width="0.7"/>
<line x1="426.70" y1="558.20" x2="426.70" y2="560.60" stroke="#000" stroke-width="0.7"/>
<line x1="428.90" y1="558.20" x2="428.90" y2="560.60" stroke="#000" stroke-width="0.7"/>
<line x1="431.40" y1="558.20" x2="431.40" y2="560.60" stroke="#000" stroke-width="0.7"/>
<line x1="433.40" y1="558.20" x2="433.40" y2="560.60" stroke="#000" stroke-width="0.7"/>
<text x="426.70" y="573.20" font-size="7.9" text-anchor="middle" fill="#111" stroke="#111">0</text>
<text x="437.60" y="573.20" font-size="7.9" text-anchor="middle" fill="#111" stroke="#111">10<tspan font-size="5.37" dy="-3.32">2</tspan></text>
<text x="458.40" y="573.20" font-size="7.9" text-anchor="middle" fill="#111" stroke="#111">10<tspan font-size="5.37" dy="-3.32">3</tspan></text>
<text x="479.20" y="573.20" font-size="7.9" text-anchor="middle" fill="#111" stroke="#111">10<tspan font-size="5.37" dy="-3.32">4</tspan></text>
<text x="500.20" y="573.20" font-size="7.9" text-anchor="middle" fill="#111" stroke="#111">10<tspan font-size="5.37" dy="-3.32">5</tspan></text>
<text x="462.00" y="464.60" font-size="10.3" text-anchor="middle" font-weight="bold" fill="#000" stroke="#000">CD42b<tspan font-size="6.5" dy="-4">-</tspan></text>
<text transform="translate(30.5,514.3) rotate(-90)" font-size="9" text-anchor="middle" fill="#111" stroke="#111">% Max</text>
<text x="78.80" y="585.60" font-size="8.7" text-anchor="middle" font-weight="normal" fill="#111"  stroke="#111">CD62P</text>
<line x1="97.00" y1="583.00" x2="504.60" y2="583.00" stroke="#000" stroke-width="1.3" />
<path d="M502.10,579.70 L509.60,583.00 L502.10,586.30 L503.30,583.00 Z" fill="#000"/>
<rect x="227.50" y="590.30" width="13.60" height="6.30" stroke="#b3123b" stroke-width="1.1" fill="#fff"/>
<text x="244.60" y="596.00" font-size="7.9" text-anchor="start" font-weight="normal" fill="#111"  stroke="#111">Stimulated</text>
<rect x="299.40" y="590.30" width="14.80" height="6.30" stroke="#777" stroke-width="0.8" fill="#b4b4b4"/>
<text x="317.00" y="596.00" font-size="7.9" text-anchor="start" font-weight="normal" fill="#111"  stroke="#111">Baseline</text>
</svg></body></html>
